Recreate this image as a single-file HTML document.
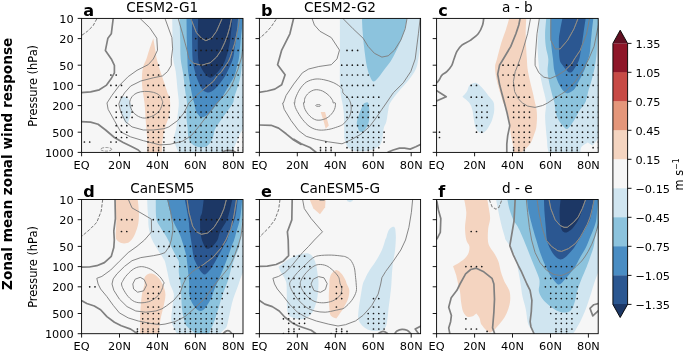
<!DOCTYPE html>
<html lang="en"><head><meta charset="utf-8"><title>Zonal mean zonal wind response</title>
<style>html,body{margin:0;padding:0;background:#fff;overflow:hidden}svg{display:block}text{font-family:'DejaVu Sans','Liberation Sans',sans-serif;fill:#000}</style>
</head><body>
<svg width="685" height="353" viewBox="0 0 685 353">
<rect width="685" height="353" fill="#fff"/>
<g id="panel-a">
<clipPath id="ca"><rect x="81.6" y="18.4" width="161.4" height="134"/></clipPath>
<rect x="81.6" y="18.4" width="161.4" height="134" fill="#f6f6f6"/>
<g clip-path="url(#ca)">
<path d="M172.2 17C172.2 17 172.4 33.1 172.6 40.1C172.8 47.1 172.7 53.6 173.2 58.9C173.7 64.1 175 66.3 175.7 71.6C176.4 76.8 177.1 85.2 177.6 90.4C178.1 95.6 178.8 98.7 178.8 102.9C178.8 107.1 178 111.4 177.6 115.6C177.2 119.8 176.9 124.5 176.3 128.1C175.7 131.7 174.4 134.2 174.2 136.9C174 139.6 174.3 141.3 175.1 144C175.9 146.7 178.8 153 178.8 153C178.8 153 233.4 153 233.4 153C233.4 153 233.5 150.2 234.1 148.1C234.7 146 236.1 143.1 237.2 140.6C238.2 138.1 239.1 135.4 240.4 133C241.7 130.6 245 126 245 126C245 126 245 17 245 17C245 17 172.2 17 172.2 17Z" fill="#d0e5f0"/>
<path d="M179.5 17C179.5 17 180 33 180.2 40C180.4 47 180.2 53.2 180.7 58.9C181.2 64.6 182.5 68.8 183.2 74.1C183.9 79.3 184.5 85.6 185.1 90.4C185.7 95.2 186.8 98.7 187 102.9C187.2 107.1 186.3 111.4 186.4 115.6C186.5 119.8 187.2 124.4 187.6 128.1C187.9 131.8 187.8 135.3 188.5 138C189.2 140.7 190.1 142.4 192 144C193.9 145.6 197.6 147.1 200.2 147.3C202.8 147.5 205.6 147 207.7 145.4C209.8 143.8 211.5 140.7 212.7 138C213.9 135.3 213.4 132.6 214.9 129.5C216.4 126.4 219.3 122.5 221.5 119.3C223.7 116.1 225.9 113.2 227.8 110.5C229.7 107.8 231.9 105.2 233 103C234.1 100.8 233.4 100 234.3 97C235.2 94 237.1 88.9 238.2 85.2C239.3 81.5 240.1 78.4 240.7 75C241.3 71.6 241.5 68.3 241.8 65C242.1 61.7 242 58.5 242.5 55C243 51.5 245 44 245 44C245 44 245 17 245 17C245 17 179.5 17 179.5 17Z" fill="#8cc3dd"/>
<path d="M186.5 17C186.5 17 186.7 33 186.8 40C187 47 187.2 53.7 187.4 59C187.6 64.3 187.7 67.4 188.1 71.6C188.5 75.8 189.4 79.9 190.1 84.1C190.8 88.3 191.7 93.5 192.4 96.7C193.1 99.9 193.6 100.7 194.2 103C194.8 105.3 195 108.4 195.8 110.5C196.6 112.6 198 114.4 198.9 115.6C199.8 116.8 200.1 117.4 201.4 117.4C202.7 117.4 204.6 116.9 206.5 115.6C208.4 114.2 210.8 111.4 212.7 109.3C214.6 107.2 216.2 105 217.8 103C219.4 101 220.3 100 222.2 97C224.1 94 227.1 88.7 229.1 85.2C231.1 81.7 233.1 79.1 234.4 76C235.7 72.9 236.2 69.3 236.9 66.5C237.6 63.7 238.3 61.7 238.8 59C239.3 56.3 239.4 53.9 239.8 50.2C240.2 46.5 240.4 42.5 241 37C241.6 31.5 243.5 17 243.5 17C243.5 17 186.5 17 186.5 17Z" fill="#4a8dc3"/>
<path d="M192 17C192 17 192 33 192.1 40C192.2 47 192.2 54.2 192.6 59C193 63.8 193.5 65.5 194.3 69C195.2 72.5 196.4 77 197.7 80.3C199 83.6 200.6 87.1 202.1 89.1C203.6 91.1 204.9 91.9 206.5 92.3C208.1 92.7 209.5 92.8 211.5 91.6C213.5 90.4 216.1 87.9 218.4 85.2C220.7 82.5 223.5 78.6 225.4 75.5C227.3 72.4 228.6 69.2 229.8 66.5C231 63.8 232 61.7 232.8 59C233.6 56.3 233.9 53.7 234.4 50.2C234.9 46.7 235.5 43.5 236.1 38C236.7 32.5 238.2 17 238.2 17C238.2 17 192 17 192 17Z" fill="#2b5791"/>
<path d="M198.2 17C198.2 17 197.8 33 197.8 40C197.8 47 197.7 54.6 198.2 59C198.7 63.4 199.4 64 200.6 66.5C201.8 69 203.6 72.2 205.2 74.1C206.8 76 208.5 77.7 210.2 77.8C211.9 77.9 213.4 76.6 215.5 74.6C217.6 72.5 220.8 68.1 222.5 65.5C224.2 62.9 224.7 61.5 225.6 59C226.5 56.5 227.4 53.7 228.2 50.2C229 46.8 229.7 43.8 230.4 38.3C231.1 32.8 232.6 17 232.6 17C232.6 17 198.2 17 198.2 17Z" fill="#1c3765"/>
<path d="M153.3 38.2C153.3 38.2 150.7 45.5 149.5 49C148.3 52.5 147.4 56.1 146.4 59C145.4 61.9 144 63.8 143.3 66.5C142.6 69.2 142.2 71.7 142 75.3C141.8 78.9 141.9 83.3 142.3 87.9C142.7 92.5 143.9 97.2 144.5 102.9C145.1 108.6 145.4 116 145.8 121.8C146.2 127.6 146.8 132.8 147.1 138C147.3 143.2 147.3 153 147.3 153C147.3 153 161.9 153 161.9 153C161.9 153 162 144.8 162.5 140.6C163 136.4 163.9 132.2 165 128C166.1 123.8 168.3 119.4 169.2 115.6C170.1 111.8 170.2 108.2 170.2 105C170.2 101.8 169.8 98.3 169.3 96.3C168.9 94.3 168.4 95.4 167.5 92.9C166.6 90.5 165.1 85.4 163.8 81.6C162.6 77.8 161.2 74.1 160 70.3C158.8 66.5 157.5 61.9 156.8 59C156.1 56.1 156.4 56.2 155.8 52.7C155.2 49.2 153.3 38.2 153.3 38.2Z" fill="#f4d4c0"/>
<path d="M120.5 98C121.3 96.8 123.2 96.6 124.5 96.7C125.8 96.8 127 97.5 128 98.5C129 99.5 129.9 101.1 130.5 103C131.1 104.9 131.6 107.7 131.5 110C131.4 112.3 130.8 114.7 130 117C129.2 119.3 128.1 123.6 127 124C125.9 124.4 124.5 121.7 123.5 119.5C122.5 117.3 121.6 113.6 121 111C120.4 108.4 119.9 106.2 119.8 104C119.7 101.8 119.7 99.2 120.5 98Z" fill="#d0e5f0"/>
<path d="M113.2 18.5L111.3 33.8 107.9 38.2 105.4 50.4 111.3 58.9 114.4 65.3 114.4 72.8 110.9 79.1 106.2 85.4 99.3 89.8 90.6 91.9 81 92.6" fill="none" stroke="#808080" stroke-width="1.7" stroke-linejoin="round"/>
<path d="M81 121.6L90.6 122.1 98.1 124.3 105.6 130 114.4 137.5 123.2 142.5 132 146.8 138.3 150 140.8 152.5" fill="none" stroke="#808080" stroke-width="1.7" stroke-linejoin="round"/>
<path d="M222 152.6L224.5 151 227.8 150.3 232.8 150.8 236 152.6" fill="none" stroke="#808080" stroke-width="1.7" stroke-linejoin="round"/>
<path d="M96.8 18.8L93.1 25.7 87.4 31.3 81.4 35.6" fill="none" stroke="#777" stroke-width="1" stroke-dasharray="3.3 1.5" stroke-linejoin="round"/>
<path d="M140.1 18.5L149.6 27.6 156.8 38.2 157.5 50.2 153.3 59 148.3 64.6 137 70.3 128.2 76.6 119.4 85.4 111.9 95.4 107 103 108.1 109.3 114.4 120.6 120.7 131.9 130.7 136.9 143.3 140.7 153.3 143.2 160 144.9 170 144.3 182.6 141.2 191.4 135.5 197.7 128 201.4 123.1 210.2 111.8 217.1 103 222.8 97 226 93.8 230.4 87.6 233.5 81.3 235.4 75.5 237.9 69.4 239.8 63.2 241.7 57 242.5 50 242.9 35 243 18" fill="none" stroke="#808080" stroke-width="0.95" stroke-linejoin="round"/>
<path d="M165 18.5L171.9 37.6 172.6 48.9 171.3 58.9 171.3 65.3 167.5 71.6 162.5 75.9 153.3 77.8 140.8 81 130.7 86 124.5 92.9 120.7 99.2 118.8 104 120.7 111.8 125.7 121.8 132 126.9 143.3 130 153.3 130 164 128.7 168.8 126.9 177.6 120.6 183.9 113 188.9 103 196.4 95.4 203.9 89.1 213.4 81.3 217.8 75 220.9 72.6 224.7 66.9 228.5 61.3 230.4 57 232.2 51.3 234.8 43.2 236.6 35 238.2 27.6 239.5 18.5" fill="none" stroke="#808080" stroke-width="0.95" stroke-linejoin="round"/>
<path d="M129.7 102.9C129.7 100.6 130.8 98.4 132 96.7C133.2 95 134.9 93.8 137 92.9C139.1 92 141.8 91.5 144.5 91.4C147.2 91.3 150.8 91.6 153.3 92.3C155.8 93 158.1 94.1 159.6 95.4C161.1 96.8 161.6 99.1 162.1 100.4C162.6 101.7 163 101.3 162.6 103C162.2 104.7 161.1 108.4 159.6 110.5C158.1 112.6 155.8 114.3 153.3 115.6C150.8 116.9 147.2 118.1 144.5 118.1C141.8 118.1 139.1 116.9 137 115.6C134.9 114.3 133.2 112.6 132 110.5C130.8 108.4 129.7 105.2 129.7 102.9Z" fill="none" stroke="#808080" stroke-width="0.95" stroke-linejoin="round"/>
<path d="M178.2 18.5L182.6 33.8 187 50.2 189 58.9 193.9 63.4 201.4 65.3 210.2 62.8 216.6 57 220.9 50.7 224.7 42.5 227.4 35.5 229.7 27.6 231.6 18.5" fill="none" stroke="#808080" stroke-width="0.95" stroke-linejoin="round"/>
<path d="M190.8 18.5L196.4 32.6 201.4 38.2 205.8 40.7 211.5 38.2 216.5 31.3 222.1 18.5" fill="none" stroke="#808080" stroke-width="0.95" stroke-linejoin="round"/>
<clipPath id="ka"><path d="M192 17C192 17 192 33 192.1 40C192.2 47 192.2 54.2 192.6 59C193 63.8 193.5 65.5 194.3 69C195.2 72.5 196.4 77 197.7 80.3C199 83.6 200.6 87.1 202.1 89.1C203.6 91.1 204.9 91.9 206.5 92.3C208.1 92.7 209.5 92.8 211.5 91.6C213.5 90.4 216.1 87.9 218.4 85.2C220.7 82.5 223.5 78.6 225.4 75.5C227.3 72.4 228.6 69.2 229.8 66.5C231 63.8 232 61.7 232.8 59C233.6 56.3 233.9 53.7 234.4 50.2C234.9 46.7 235.5 43.5 236.1 38C236.7 32.5 238.2 17 238.2 17C238.2 17 192 17 192 17Z"/></clipPath>
<g clip-path="url(#ka)">
<path d="M140.1 18.5L149.6 27.6 156.8 38.2 157.5 50.2 153.3 59 148.3 64.6 137 70.3 128.2 76.6 119.4 85.4 111.9 95.4 107 103 108.1 109.3 114.4 120.6 120.7 131.9 130.7 136.9 143.3 140.7 153.3 143.2 160 144.9 170 144.3 182.6 141.2 191.4 135.5 197.7 128 201.4 123.1 210.2 111.8 217.1 103 222.8 97 226 93.8 230.4 87.6 233.5 81.3 235.4 75.5 237.9 69.4 239.8 63.2 241.7 57 242.5 50 242.9 35 243 18" fill="none" stroke="#969086" stroke-width="0.8" stroke-linejoin="round"/>
<path d="M165 18.5L171.9 37.6 172.6 48.9 171.3 58.9 171.3 65.3 167.5 71.6 162.5 75.9 153.3 77.8 140.8 81 130.7 86 124.5 92.9 120.7 99.2 118.8 104 120.7 111.8 125.7 121.8 132 126.9 143.3 130 153.3 130 164 128.7 168.8 126.9 177.6 120.6 183.9 113 188.9 103 196.4 95.4 203.9 89.1 213.4 81.3 217.8 75 220.9 72.6 224.7 66.9 228.5 61.3 230.4 57 232.2 51.3 234.8 43.2 236.6 35 238.2 27.6 239.5 18.5" fill="none" stroke="#969086" stroke-width="0.8" stroke-linejoin="round"/>
<path d="M129.7 102.9C129.7 100.6 130.8 98.4 132 96.7C133.2 95 134.9 93.8 137 92.9C139.1 92 141.8 91.5 144.5 91.4C147.2 91.3 150.8 91.6 153.3 92.3C155.8 93 158.1 94.1 159.6 95.4C161.1 96.8 161.6 99.1 162.1 100.4C162.6 101.7 163 101.3 162.6 103C162.2 104.7 161.1 108.4 159.6 110.5C158.1 112.6 155.8 114.3 153.3 115.6C150.8 116.9 147.2 118.1 144.5 118.1C141.8 118.1 139.1 116.9 137 115.6C134.9 114.3 133.2 112.6 132 110.5C130.8 108.4 129.7 105.2 129.7 102.9Z" fill="none" stroke="#969086" stroke-width="0.8" stroke-linejoin="round"/>
<path d="M178.2 18.5L182.6 33.8 187 50.2 189 58.9 193.9 63.4 201.4 65.3 210.2 62.8 216.6 57 220.9 50.7 224.7 42.5 227.4 35.5 229.7 27.6 231.6 18.5" fill="none" stroke="#969086" stroke-width="0.8" stroke-linejoin="round"/>
<path d="M190.8 18.5L196.4 32.6 201.4 38.2 205.8 40.7 211.5 38.2 216.5 31.3 222.1 18.5" fill="none" stroke="#969086" stroke-width="0.8" stroke-linejoin="round"/>
</g>
<path d="M195.7 38.6h0M201 38.6h0M206.3 38.6h0M211.6 38.6h0M216.9 38.6h0M222.2 38.6h0M227.5 38.6h0M232.8 38.6h0M238.1 38.6h0M243.4 38.6h0M195.7 50.4h0M201 50.4h0M206.3 50.4h0M211.6 50.4h0M216.9 50.4h0M222.2 50.4h0M227.5 50.4h0M232.8 50.4h0M238.1 50.4h0M243.4 50.4h0M153.3 65.2h0M158.6 65.2h0M190.4 65.2h0M195.7 65.2h0M201 65.2h0M206.3 65.2h0M211.6 65.2h0M216.9 65.2h0M222.2 65.2h0M227.5 65.2h0M232.8 65.2h0M238.1 65.2h0M243.4 65.2h0M110.9 75h0M116.2 75h0M148 75h0M153.3 75h0M158.6 75h0M185.1 75h0M190.4 75h0M195.7 75h0M201 75h0M206.3 75h0M211.6 75h0M216.9 75h0M222.2 75h0M227.5 75h0M232.8 75h0M238.1 75h0M243.4 75h0M110.9 85.4h0M116.2 85.4h0M121.5 85.4h0M148 85.4h0M153.3 85.4h0M158.6 85.4h0M163.9 85.4h0M185.1 85.4h0M190.4 85.4h0M195.7 85.4h0M201 85.4h0M206.3 85.4h0M211.6 85.4h0M216.9 85.4h0M222.2 85.4h0M227.5 85.4h0M232.8 85.4h0M238.1 85.4h0M243.4 85.4h0M116.2 97.2h0M121.5 97.2h0M126.8 97.2h0M148 97.2h0M153.3 97.2h0M158.6 97.2h0M163.9 97.2h0M169.2 97.2h0M185.1 97.2h0M190.4 97.2h0M195.7 97.2h0M201 97.2h0M206.3 97.2h0M211.6 97.2h0M216.9 97.2h0M222.2 97.2h0M227.5 97.2h0M232.8 97.2h0M238.1 97.2h0M243.4 97.2h0M116.2 105.6h0M121.5 105.6h0M126.8 105.6h0M132.1 105.6h0M148 105.6h0M153.3 105.6h0M158.6 105.6h0M163.9 105.6h0M169.2 105.6h0M185.1 105.6h0M190.4 105.6h0M195.7 105.6h0M201 105.6h0M206.3 105.6h0M211.6 105.6h0M216.9 105.6h0M222.2 105.6h0M227.5 105.6h0M232.8 105.6h0M238.1 105.6h0M243.4 105.6h0M116.2 112.1h0M121.5 112.1h0M126.8 112.1h0M132.1 112.1h0M148 112.1h0M153.3 112.1h0M158.6 112.1h0M163.9 112.1h0M169.2 112.1h0M185.1 112.1h0M190.4 112.1h0M195.7 112.1h0M201 112.1h0M206.3 112.1h0M211.6 112.1h0M216.9 112.1h0M222.2 112.1h0M227.5 112.1h0M232.8 112.1h0M238.1 112.1h0M243.4 112.1h0M116.2 117.4h0M121.5 117.4h0M126.8 117.4h0M132.1 117.4h0M148 117.4h0M153.3 117.4h0M158.6 117.4h0M163.9 117.4h0M169.2 117.4h0M179.8 117.4h0M185.1 117.4h0M190.4 117.4h0M195.7 117.4h0M201 117.4h0M206.3 117.4h0M211.6 117.4h0M216.9 117.4h0M222.2 117.4h0M227.5 117.4h0M232.8 117.4h0M238.1 117.4h0M243.4 117.4h0M116.2 125.7h0M121.5 125.7h0M126.8 125.7h0M148 125.7h0M153.3 125.7h0M158.6 125.7h0M163.9 125.7h0M179.8 125.7h0M185.1 125.7h0M190.4 125.7h0M195.7 125.7h0M201 125.7h0M206.3 125.7h0M211.6 125.7h0M216.9 125.7h0M222.2 125.7h0M227.5 125.7h0M232.8 125.7h0M238.1 125.7h0M243.4 125.7h0M116.2 132.2h0M121.5 132.2h0M126.8 132.2h0M148 132.2h0M153.3 132.2h0M158.6 132.2h0M163.9 132.2h0M179.8 132.2h0M185.1 132.2h0M190.4 132.2h0M195.7 132.2h0M201 132.2h0M206.3 132.2h0M211.6 132.2h0M216.9 132.2h0M222.2 132.2h0M227.5 132.2h0M232.8 132.2h0M238.1 132.2h0M243.4 132.2h0M116.2 137.5h0M121.5 137.5h0M126.8 137.5h0M148 137.5h0M153.3 137.5h0M158.6 137.5h0M163.9 137.5h0M174.5 137.5h0M179.8 137.5h0M185.1 137.5h0M190.4 137.5h0M195.7 137.5h0M201 137.5h0M206.3 137.5h0M211.6 137.5h0M216.9 137.5h0M222.2 137.5h0M227.5 137.5h0M232.8 137.5h0M238.1 137.5h0M243.4 137.5h0M84.4 142h0M89.7 142h0M110.9 142h0M116.2 142h0M148 142h0M153.3 142h0M158.6 142h0M163.9 142h0M174.5 142h0M179.8 142h0M185.1 142h0M190.4 142h0M195.7 142h0M201 142h0M206.3 142h0M211.6 142h0M216.9 142h0M222.2 142h0M227.5 142h0M232.8 142h0M238.1 142h0M243.4 142h0M148 147.7h0M153.3 147.7h0M158.6 147.7h0M163.9 147.7h0M179.8 147.7h0M185.1 147.7h0M190.4 147.7h0M195.7 147.7h0M201 147.7h0M206.3 147.7h0M211.6 147.7h0M216.9 147.7h0M222.2 147.7h0M227.5 147.7h0M232.8 147.7h0M238.1 147.7h0M243.4 147.7h0M148 150.1h0M153.3 150.1h0M158.6 150.1h0M163.9 150.1h0M179.8 150.1h0M185.1 150.1h0M190.4 150.1h0M195.7 150.1h0M201 150.1h0M206.3 150.1h0M211.6 150.1h0M216.9 150.1h0M222.2 150.1h0M227.5 150.1h0M232.8 150.1h0M238.1 150.1h0M243.4 150.1h0M148 152.4h0M153.3 152.4h0M158.6 152.4h0M163.9 152.4h0M179.8 152.4h0M185.1 152.4h0M190.4 152.4h0M195.7 152.4h0M201 152.4h0M206.3 152.4h0M211.6 152.4h0M216.9 152.4h0M222.2 152.4h0M227.5 152.4h0M232.8 152.4h0M238.1 152.4h0M243.4 152.4h0" stroke="#1a1a1a" stroke-width="1.7" stroke-linecap="round" fill="none"/>
<ellipse cx="106.2" cy="149.3" rx="5.5" ry="1.8" fill="none" stroke="#808080" stroke-width="0.8" stroke-dasharray="3 1.3"/>
</g>
<rect x="81.6" y="18.4" width="161.4" height="134" fill="none" stroke="#000" stroke-width="0.9"/>
</g>
<path d="M81.6 18.4h-3.9M81.6 38.6h-3.9M81.6 65.2h-3.9M81.6 85.4h-3.9M81.6 105.6h-3.9M81.6 132.2h-3.9M81.6 152.4h-3.9M81.6 152.4v3.9M119.5 152.4v3.9M157.5 152.4v3.9M195.4 152.4v3.9M233.4 152.4v3.9" stroke="#000" stroke-width="0.9" fill="none"/>
<text x="81.6" y="169.1" font-size="11.3" text-anchor="middle">EQ</text>
<text x="119.5" y="169.1" font-size="11.3" text-anchor="middle">20N</text>
<text x="157.5" y="169.1" font-size="11.3" text-anchor="middle">40N</text>
<text x="195.4" y="169.1" font-size="11.3" text-anchor="middle">60N</text>
<text x="233.4" y="169.1" font-size="11.3" text-anchor="middle">80N</text>
<text x="73.7" y="22.8" font-size="11.3" text-anchor="end">10</text>
<text x="73.7" y="43" font-size="11.3" text-anchor="end">20</text>
<text x="73.7" y="69.6" font-size="11.3" text-anchor="end">50</text>
<text x="73.7" y="89.8" font-size="11.3" text-anchor="end">100</text>
<text x="73.7" y="110" font-size="11.3" text-anchor="end">200</text>
<text x="73.7" y="136.6" font-size="11.3" text-anchor="end">500</text>
<text x="73.7" y="156.8" font-size="11.3" text-anchor="end">1000</text>
<text transform="translate(37.2 85.8) rotate(-90)" font-size="11.4" text-anchor="middle">Pressure (hPa)</text>
<text x="162.3" y="11.8" font-size="13.65" text-anchor="middle">CESM2-G1</text>
<text x="83.3" y="15.5" font-size="16.1" font-weight="bold">a</text>
<g id="panel-b">
<clipPath id="cb"><rect x="259.4" y="18.4" width="161.2" height="134"/></clipPath>
<rect x="259.4" y="18.4" width="161.2" height="134" fill="#f6f6f6"/>
<g clip-path="url(#cb)">
<path d="M339.9 16.3C339.9 16.3 339.9 47.6 339.9 58.9C339.9 70.2 339.7 77.8 339.9 84.1C340.1 90.4 340.7 93.5 341.1 96.7C341.6 99.8 342 100.6 342.4 102.9C342.8 105.3 343.2 108 343.5 110.5C343.8 113.1 343.9 114.1 344 118.1C344.2 122 344.2 131.1 344.3 134.4C344.3 137.7 343.9 136.2 344.3 138C344.7 139.9 345.5 143.6 346.8 145.6C348 147.6 349.5 149 351.8 150C354.1 150.9 357.5 151.3 360.6 151.3C363.7 151.4 367.7 150.9 370.6 150.1C373.6 149.3 376.3 148.4 378.2 146.8C380.1 145.2 381 143.7 381.9 140.6C382.9 137.4 383.1 131.1 383.8 128C384.6 124.9 385.6 124.7 386.3 121.8C387.1 118.9 387.6 113.7 388.2 110.5C388.8 107.4 388.4 106.1 390.1 103C391.8 99.9 395.2 95.6 398.3 91.9C401.3 88.2 405.4 84.4 408.3 80.6C411.2 76.8 414.2 72.9 415.8 69.3C417.5 65.7 417.6 62.8 418.4 59C419.1 55.2 419.6 50.6 420.2 46.4C420.9 42.2 422 38.9 422.4 33.8C422.7 28.8 422.4 16.3 422.4 16.3C422.4 16.3 339.9 16.3 339.9 16.3Z" fill="#d0e5f0"/>
<path d="M361.9 16.3C361.9 16.3 362.2 25.5 362.5 30.1C362.8 34.7 363.2 39.1 363.7 43.9C364.3 48.7 365 54.7 365.6 58.9C366.2 63.1 366.8 66.1 367.5 69C368.2 72 369 74.5 370 76.6C371 78.7 372 81.4 373.4 81.6C374.8 81.8 376.1 80.1 378.2 77.8C380.2 75.5 383.4 70.9 385.7 67.8C388 64.7 389.7 63 392 59C394.3 55 397.4 48.7 399.5 43.9C401.6 39.1 403.3 34.7 404.5 30.1C405.8 25.5 407.1 16.3 407.1 16.3C407.1 16.3 361.9 16.3 361.9 16.3Z" fill="#8cc3dd"/>
<path d="M367.3 102.3C366.4 102.1 364.5 102.9 363.5 104C362.5 105.1 362 107.1 361.2 109C360.4 110.9 359.4 113.2 358.7 115.6C358 117.9 356.8 120.7 356.8 123.1C356.8 125.5 357.9 128.5 358.7 130C359.5 131.5 360.6 132.2 361.9 131.9C363.1 131.6 365 129.8 366.2 128.1C367.4 126.4 368.3 124.3 368.8 121.8C369.3 119.3 369.4 115.8 369.4 113C369.4 110.2 369.1 106.8 368.8 105C368.5 103.2 368.2 102.5 367.3 102.3Z" fill="#8cc3dd"/>
<path d="M320.7 112L325.1 112 327 119 328.8 125.6 325.7 128.7 323.8 121.8Z" fill="#f4d4c0"/>
<path d="M276.1 19.4L271.1 26.9 264.8 33.8 259.1 38.6" fill="none" stroke="#777" stroke-width="1" stroke-dasharray="3.3 1.5" stroke-linejoin="round"/>
<path d="M293.7 18L289.9 33.8 281.7 50.1 279.2 58.9 277.6 64.7 285.1 74.7 281.7 84.7 274.8 89.1 267.3 91 258.5 92.4" fill="none" stroke="#808080" stroke-width="1.7" stroke-linejoin="round"/>
<path d="M258.5 125L271.1 125.3 278.6 128.1 286.1 133.8 293.7 140 301.2 144.4 293.7 139.3 301.2 143.7 310 147.5 316.3 152.5" fill="none" stroke="#808080" stroke-width="1.7" stroke-linejoin="round"/>
<path d="M387.6 152.4L393.2 150 399.5 148.1 404.5 148.1 410.2 149.1 415.8 146.8 422.1 143.7" fill="none" stroke="#808080" stroke-width="1.7" stroke-linejoin="round"/>
<path d="M311.9 18L314.4 25 320 31.3 331.3 37.6 339.5 50.1 337 58.9 331.3 64.7 318.8 66.5 308.7 69 302.4 72.8 293.7 84.1 286.1 95.4 283.4 102.9 282.6 103 284.2 109.3 291.1 120.6 298.7 130.6 306.2 136.3 316.3 139.4 328.8 141.9 342 143.8 350.6 140 360.6 134.4 369.4 126.8 376.9 116.8 381.9 109.3 386.3 103 393.2 92.9 403.3 82.8 410.8 71.5 415.2 59 418.4 33.8 420.2 18" fill="none" stroke="#808080" stroke-width="0.95" stroke-linejoin="round"/>
<path d="M342.4 18L353.1 28.8 363.1 38.2 368.1 46.4 374.4 53.3 381.9 57.1 388.2 55.8 394.5 50.1 400.8 40.1 405.2 28.8 407.1 18" fill="none" stroke="#808080" stroke-width="0.95" stroke-linejoin="round"/>
<path d="M342 88.5C340.5 86.8 336.9 84.3 333.8 82.8C330.8 81.4 326.9 80.3 323.8 79.7C320.7 79.1 317.9 78.7 315 79.1C312.1 79.5 308.7 80.6 306.2 82.2C303.7 83.9 301.7 86.5 299.9 89.1C298.2 91.7 296.4 95.6 295.6 97.9C294.7 100.2 294.9 102.1 294.7 102.9C294.5 103.8 294 101.9 294.3 103C294.5 104.1 294.8 106.6 296.2 109.3C297.5 112 300.1 116.4 302.4 119.3C304.8 122.2 307.3 125.1 310 126.8C312.7 128.6 315.6 129.6 318.8 130C321.9 130.4 325.7 129.9 328.8 129.4C332 128.8 335.4 127.6 337.6 126.8C339.8 126.1 340.9 125.6 342 125C343.1 124.3 343.1 124.5 344.3 123.1C345.5 121.7 348.1 119.1 349.3 116.8C350.5 114.5 351 111.6 351.2 109.3C351.4 107 351.1 104.9 350.6 103C350 101.1 349.3 99.6 348 97.9C346.8 96.2 344 94.5 343 92.9C342 91.3 343.5 90.2 342 88.5Z" fill="none" stroke="#808080" stroke-width="0.95" stroke-linejoin="round"/>
<path d="M304.3 102.9C304.6 102.1 304.2 99.6 305 97.9C305.7 96.2 307.1 94.3 308.7 92.9C310.4 91.5 312.7 90.1 315 89.8C317.3 89.4 320.2 90.1 322.5 91C324.8 92 327.1 93.8 328.8 95.4C330.5 97 331.9 99.2 332.6 100.4C333.3 101.7 332.8 102.5 333.2 102.9C333.7 103.4 335.1 101.9 335.4 103C335.6 104.1 335.4 107.2 334.5 109.3C333.6 111.4 331.8 113.9 330.1 115.5C328.3 117.2 326.1 118.6 323.8 119.3C321.5 120.1 318.6 120.5 316.3 120C314 119.4 311.9 118 310 116.2C308.1 114.4 306 111.5 305 109.3C303.9 107.1 303.6 104.1 303.5 103C303.4 101.9 304.1 103.8 304.3 102.9Z" fill="none" stroke="#808080" stroke-width="0.95" stroke-linejoin="round"/>
<path d="M347 50.4h0M352.3 50.4h0M357.6 50.4h0M341.7 65.2h0M347 65.2h0M352.3 65.2h0M357.6 65.2h0M362.9 65.2h0M341.7 75h0M347 75h0M352.3 75h0M357.6 75h0M362.9 75h0M368.2 75h0M341.7 85.4h0M347 85.4h0M352.3 85.4h0M357.6 85.4h0M362.9 85.4h0M368.2 85.4h0M373.5 85.4h0M347 97.2h0M352.3 97.2h0M357.6 97.2h0M362.9 97.2h0M368.2 97.2h0M373.5 97.2h0M378.8 97.2h0M347 105.6h0M352.3 105.6h0M357.6 105.6h0M362.9 105.6h0M368.2 105.6h0M373.5 105.6h0M378.8 105.6h0M347 112.1h0M352.3 112.1h0M357.6 112.1h0M362.9 112.1h0M368.2 112.1h0M373.5 112.1h0M378.8 112.1h0M347 117.4h0M352.3 117.4h0M357.6 117.4h0M362.9 117.4h0M368.2 117.4h0M373.5 117.4h0M378.8 117.4h0M347 125.7h0M352.3 125.7h0M357.6 125.7h0M362.9 125.7h0M368.2 125.7h0M373.5 125.7h0M378.8 125.7h0M347 132.2h0M352.3 132.2h0M357.6 132.2h0M362.9 132.2h0M368.2 132.2h0M373.5 132.2h0M378.8 132.2h0M384.1 132.2h0M347 137.5h0M352.3 137.5h0M357.6 137.5h0M362.9 137.5h0M368.2 137.5h0M373.5 137.5h0M378.8 137.5h0M384.1 137.5h0M325.8 142h0M347 142h0M352.3 142h0M357.6 142h0M362.9 142h0M368.2 142h0M373.5 142h0M378.8 142h0M384.1 142h0M320.5 147.7h0M325.8 147.7h0M331.1 147.7h0M347 147.7h0M352.3 147.7h0M357.6 147.7h0M362.9 147.7h0M368.2 147.7h0M373.5 147.7h0M378.8 147.7h0M320.5 150.1h0M325.8 150.1h0M331.1 150.1h0M352.3 150.1h0M357.6 150.1h0M362.9 150.1h0M368.2 150.1h0M373.5 150.1h0M320.5 152.4h0M325.8 152.4h0M331.1 152.4h0M352.3 152.4h0M357.6 152.4h0M362.9 152.4h0M368.2 152.4h0M373.5 152.4h0" stroke="#1a1a1a" stroke-width="1.7" stroke-linecap="round" fill="none"/>
<ellipse cx="318.2" cy="105.5" rx="2.5" ry="0.9" fill="none" stroke="#808080" stroke-width="0.85"/>
</g>
<rect x="259.4" y="18.4" width="161.2" height="134" fill="none" stroke="#000" stroke-width="0.9"/>
</g>
<path d="M259.4 18.4h-3.9M259.4 38.6h-3.9M259.4 65.2h-3.9M259.4 85.4h-3.9M259.4 105.6h-3.9M259.4 132.2h-3.9M259.4 152.4h-3.9M259.4 152.4v3.9M297.3 152.4v3.9M335.3 152.4v3.9M373.2 152.4v3.9M411.2 152.4v3.9" stroke="#000" stroke-width="0.9" fill="none"/>
<text x="259.4" y="169.1" font-size="11.3" text-anchor="middle">EQ</text>
<text x="297.3" y="169.1" font-size="11.3" text-anchor="middle">20N</text>
<text x="335.3" y="169.1" font-size="11.3" text-anchor="middle">40N</text>
<text x="373.2" y="169.1" font-size="11.3" text-anchor="middle">60N</text>
<text x="411.2" y="169.1" font-size="11.3" text-anchor="middle">80N</text>
<text x="340" y="11.8" font-size="13.65" text-anchor="middle">CESM2-G2</text>
<text x="261.1" y="15.5" font-size="16.1" font-weight="bold">b</text>
<g id="panel-c">
<clipPath id="cc"><rect x="436.6" y="18.4" width="161.6" height="134"/></clipPath>
<rect x="436.6" y="18.4" width="161.6" height="134" fill="#f6f6f6"/>
<g clip-path="url(#cc)">
<path d="M509.6 17C509.6 17 507.2 25.8 505.8 30.1C504.4 34.4 502.9 37.8 501.4 42.6C499.9 47.4 498.1 55 497 59C495.9 63 495.3 63.8 495.1 66.5C494.9 69.2 495.3 72 495.8 75.3C496.3 78.6 497.4 83 498.3 86.6C499.2 90.2 500.6 94 501.4 96.7C502.2 99.4 502.2 100.2 503.3 102.9C504.4 105.6 506.6 109.6 507.7 113C508.8 116.4 509.1 119.5 509.6 123.1C510.1 126.7 510.2 130.4 510.8 134.4C511.4 138.4 512.9 143.7 513.4 146.9C513.9 150.1 514 153.5 514 153.5C514 153.5 520.5 153.5 520.5 153.5C520.5 153.5 522.6 151.7 523.8 150.6C525 149.5 526.4 148.3 527.6 146.8C528.9 145.3 530.2 143.9 531.3 141.8C532.4 139.7 533.4 136.6 534.2 134.3C535 132 535.7 130.7 536.2 128C536.7 125.3 536.9 121 537 118C537.1 115 536.9 112.5 536.6 110C536.3 107.5 535.7 105.5 535.1 102.9C534.5 100.3 534 97.8 533.2 94.2C532.4 90.7 531 85.8 530.1 81.6C529.2 77.4 528.1 72.8 527.6 69C527.1 65.2 527.1 62.1 526.9 59C526.7 55.9 526.5 54.4 526.3 50.2C526.1 46 525.7 39.3 525.7 33.8C525.7 28.3 526.3 17 526.3 17C526.3 17 509.6 17 509.6 17Z" fill="#f4d4c0"/>
<path d="M539.5 17C539.5 17 538.5 28.9 538.2 33.8C537.9 38.7 537.6 42.2 537.6 46.4C537.6 50.6 537.9 54.7 538.2 58.9C538.5 63.1 538.9 67.4 539.5 71.6C540.1 75.8 541.1 79.9 542 84.1C542.9 88.3 544.4 93.4 545.1 96.7C545.8 100 546.2 100.8 546.2 104C546.2 107.2 545.2 111.6 545.1 115.6C545 119.6 545.5 123.9 545.8 128.1C546.1 132.3 546.7 137.4 547 140.7C547.3 144 547.3 146 547.6 148.1C547.9 150.2 549 153.5 549 153.5C549 153.5 580.3 153.5 580.3 153.5C580.3 153.5 580.2 148.7 581.5 146.8C582.8 145 587.8 142.4 587.8 142.4C587.8 142.4 592.8 145.6 592.8 145.6C592.8 145.6 595.4 142.2 596.6 140.6C597.8 139 600 136 600 136C600 136 600 17 600 17C600 17 539.5 17 539.5 17Z" fill="#d0e5f0"/>
<path d="M546.4 17C546.4 17 545.2 28.9 545.1 33.8C545 38.7 545.3 42.2 545.8 46.4C546.3 50.6 548 54.7 548.3 58.9C548.6 63.1 547.4 67.4 547.6 71.6C547.8 75.8 548.6 79.9 549.5 84.1C550.4 88.3 551.9 93.6 552.7 96.7C553.5 99.8 554 100.2 554.5 102.9C555 105.6 554.9 109.8 555.8 113C556.6 116.2 557.9 119.2 559.6 121.8C561.3 124.4 564.2 127.7 565.8 128.7C567.4 129.6 567.6 128.8 569 127.5C570.4 126.2 572.2 123.4 574 120.6C575.8 117.8 577.7 113.4 579.5 110.5C581.3 107.6 583.8 105.3 585 103C586.2 100.7 586.4 98.9 587 96.7C587.6 94.5 588.1 91.9 588.6 90C589.1 88.1 589.5 87.6 590.2 85.1C590.9 82.6 592.3 77.8 593 74.9C593.7 72.1 594 71.3 594.6 68C595.2 64.7 596 59.6 596.5 55C597 50.4 596.8 46.4 597.4 40.1C598 33.8 600 17 600 17C600 17 546.4 17 546.4 17Z" fill="#8cc3dd"/>
<path d="M550.8 17C550.8 17 550.3 28.9 550.4 33.8C550.5 38.7 551 42.2 551.4 46.4C551.8 50.6 552.5 54.7 553 58.9C553.5 63.1 553.5 67.4 554.5 71.6C555.5 75.8 557.3 80.8 558.9 84.1C560.5 87.4 562.5 90.1 564 91.6C565.5 93.1 566.1 93.5 567.7 93.2C569.3 92.9 572.1 91.3 573.6 90C575.1 88.7 575.3 87.6 576.7 85.1C578.1 82.6 580.6 77.8 582 74.9C583.4 72.1 584.3 70.3 585.2 68C586.1 65.7 586.8 63.2 587.5 61C588.2 58.8 589 56.8 589.4 55C589.8 53.2 589.7 53.7 590.1 50.2C590.5 46.7 591 39.3 591.6 33.8C592.2 28.3 593.5 17 593.5 17C593.5 17 550.8 17 550.8 17Z" fill="#4a8dc3"/>
<path d="M562.7 17C562.7 17 560.8 26.2 560.2 30.1C559.6 34 559 35.3 558.9 40.1C558.8 44.9 559 54.7 559.6 58.9C560.2 63.1 561.4 63.2 562.7 65.3C564.1 67.4 566.5 70.4 567.7 71.6C569 72.8 569.4 72.5 570.2 72.4C571.1 72.3 571.8 72.1 572.8 70.9C573.8 69.7 575.4 67.3 576.5 65.3C577.6 63.3 578.6 61.5 579.3 59C580 56.5 580.2 54.4 580.9 50.2C581.6 46 582.6 39.3 583.4 33.8C584.2 28.3 585.9 17 585.9 17C585.9 17 562.7 17 562.7 17Z" fill="#2b5791"/>
<path d="M462.5 96.7C462.5 96.7 465.8 93.5 466.9 91.6C468 89.7 468.1 86.9 469.4 85.4C470.6 84 472.9 83.1 474.4 82.9C475.9 82.7 476.7 83.1 478.2 84.1C479.7 85.1 481.5 87.2 483.2 89.1C484.9 91 486.5 93.3 488.2 95.4C489.9 97.5 492.3 99.8 493.3 101.7C494.3 103.6 494.1 105.1 494.2 107C494.3 108.9 494.4 110.5 493.9 113C493.4 115.5 492.5 119.1 491.4 121.8C490.2 124.5 488.5 127.5 487 129.4C485.5 131.3 483.9 132.6 482.6 133.1C481.4 133.6 480.6 133.3 479.5 132.5C478.4 131.7 476.6 130.3 475.7 128.1C474.8 125.9 474.3 122.2 473.8 119.3C473.3 116.4 473.2 113.2 472.5 110.5C471.8 107.8 471.1 105.3 469.4 103C467.7 100.7 462.5 96.7 462.5 96.7Z" fill="#d0e5f0"/>
<path d="M483.8 17.5C483.6 18.8 483.5 22.3 482.6 25C481.7 27.7 480.2 31.3 478.2 33.8C476.2 36.3 473.4 38.2 470.7 40.1C468 42 464.2 43.2 461.9 45.1C459.6 47 458.2 49.1 456.9 51.4C455.6 53.7 454.9 56.7 454 59C453.1 61.3 453 63.2 451.8 65.3C450.6 67.4 448.5 69.9 446.8 71.6C445.1 73.3 443.1 73.9 441.8 75.3C440.6 76.7 440.3 78.3 439.3 79.7C438.3 81.1 436.6 82.9 436 83.5" fill="none" stroke="#808080" stroke-width="1.7" stroke-linejoin="round"/>
<path d="M436 90.2L446.2 96.7 436 101.2" fill="none" stroke="#808080" stroke-width="1.7" stroke-linejoin="round"/>
<path d="M520.3 17.5L518.8 25 515.9 33.8 510.8 46.4 503.3 59 499.5 65.3 497.7 74.1 499.5 84.1 502.1 94.2 504.5 102.9 507.1 113 509.8 125.6 507.7 135.6 506.8 144 506.8 153" fill="none" stroke="#808080" stroke-width="1.7" stroke-linejoin="round"/>
<path d="M530.7 17.5L527.6 33.8 523.2 48.9 520 59 516.3 69 515.2 71.6 513.4 81.6 514.6 91.6 518.6 99.2 522.5 103 527.6 106.1 535.1 107.4 542.6 105.5 547.6 103 555.2 97.9 565.2 91.6 575.3 81.6 582.8 70.3 588.7 59 594.1 46.4 597.9 27.6 599 22" fill="none" stroke="#808080" stroke-width="0.95" stroke-linejoin="round"/>
<path d="M539.5 17.5L537 33.8 535.1 58.9 535.1 65.3 538.9 72.8 543.9 77.2 550.2 78.5 557.7 75.3 565.2 70.3 571.5 64 574.4 59 580.3 50.2 586.6 33.8 589.7 17.5" fill="none" stroke="#808080" stroke-width="0.95" stroke-linejoin="round"/>
<path d="M550.8 17.5L550.8 40.1 555.2 48.9 560.2 48.9 567.7 40.1 574 28.8 578.4 17.5" fill="none" stroke="#808080" stroke-width="0.95" stroke-linejoin="round"/>
<clipPath id="kc"><path d="M562.7 17C562.7 17 560.8 26.2 560.2 30.1C559.6 34 559 35.3 558.9 40.1C558.8 44.9 559 54.7 559.6 58.9C560.2 63.1 561.4 63.2 562.7 65.3C564.1 67.4 566.5 70.4 567.7 71.6C569 72.8 569.4 72.5 570.2 72.4C571.1 72.3 571.8 72.1 572.8 70.9C573.8 69.7 575.4 67.3 576.5 65.3C577.6 63.3 578.6 61.5 579.3 59C580 56.5 580.2 54.4 580.9 50.2C581.6 46 582.6 39.3 583.4 33.8C584.2 28.3 585.9 17 585.9 17C585.9 17 562.7 17 562.7 17Z"/></clipPath>
<g clip-path="url(#kc)">
<path d="M530.7 17.5L527.6 33.8 523.2 48.9 520 59 516.3 69 515.2 71.6 513.4 81.6 514.6 91.6 518.6 99.2 522.5 103 527.6 106.1 535.1 107.4 542.6 105.5 547.6 103 555.2 97.9 565.2 91.6 575.3 81.6 582.8 70.3 588.7 59 594.1 46.4 597.9 27.6 599 22" fill="none" stroke="#969086" stroke-width="0.8" stroke-linejoin="round"/>
<path d="M539.5 17.5L537 33.8 535.1 58.9 535.1 65.3 538.9 72.8 543.9 77.2 550.2 78.5 557.7 75.3 565.2 70.3 571.5 64 574.4 59 580.3 50.2 586.6 33.8 589.7 17.5" fill="none" stroke="#969086" stroke-width="0.8" stroke-linejoin="round"/>
<path d="M550.8 17.5L550.8 40.1 555.2 48.9 560.2 48.9 567.7 40.1 574 28.8 578.4 17.5" fill="none" stroke="#969086" stroke-width="0.8" stroke-linejoin="round"/>
</g>
<path d="M503 65.2h0M508.3 65.2h0M513.6 65.2h0M518.9 65.2h0M566.6 65.2h0M571.9 65.2h0M577.2 65.2h0M582.5 65.2h0M587.8 65.2h0M593.1 65.2h0M598.4 65.2h0M503 75h0M508.3 75h0M513.6 75h0M518.9 75h0M524.2 75h0M566.6 75h0M571.9 75h0M577.2 75h0M582.5 75h0M587.8 75h0M593.1 75h0M598.4 75h0M471.2 85.4h0M476.5 85.4h0M508.3 85.4h0M513.6 85.4h0M518.9 85.4h0M524.2 85.4h0M561.3 85.4h0M566.6 85.4h0M571.9 85.4h0M577.2 85.4h0M582.5 85.4h0M587.8 85.4h0M593.1 85.4h0M598.4 85.4h0M471.2 97.2h0M476.5 97.2h0M481.8 97.2h0M508.3 97.2h0M513.6 97.2h0M518.9 97.2h0M524.2 97.2h0M529.5 97.2h0M556 97.2h0M561.3 97.2h0M566.6 97.2h0M571.9 97.2h0M577.2 97.2h0M582.5 97.2h0M587.8 97.2h0M593.1 97.2h0M598.4 97.2h0M476.5 105.6h0M481.8 105.6h0M487.1 105.6h0M513.6 105.6h0M518.9 105.6h0M524.2 105.6h0M556 105.6h0M561.3 105.6h0M566.6 105.6h0M571.9 105.6h0M577.2 105.6h0M582.5 105.6h0M587.8 105.6h0M593.1 105.6h0M598.4 105.6h0M476.5 112.1h0M481.8 112.1h0M487.1 112.1h0M513.6 112.1h0M518.9 112.1h0M524.2 112.1h0M529.5 112.1h0M556 112.1h0M561.3 112.1h0M566.6 112.1h0M571.9 112.1h0M577.2 112.1h0M582.5 112.1h0M587.8 112.1h0M593.1 112.1h0M598.4 112.1h0M476.5 117.4h0M481.8 117.4h0M487.1 117.4h0M513.6 117.4h0M518.9 117.4h0M524.2 117.4h0M529.5 117.4h0M556 117.4h0M561.3 117.4h0M566.6 117.4h0M571.9 117.4h0M577.2 117.4h0M582.5 117.4h0M587.8 117.4h0M593.1 117.4h0M598.4 117.4h0M476.5 125.7h0M481.8 125.7h0M518.9 125.7h0M524.2 125.7h0M529.5 125.7h0M556 125.7h0M561.3 125.7h0M566.6 125.7h0M571.9 125.7h0M577.2 125.7h0M582.5 125.7h0M587.8 125.7h0M593.1 125.7h0M598.4 125.7h0M439.5 132.2h0M476.5 132.2h0M481.8 132.2h0M513.6 132.2h0M518.9 132.2h0M524.2 132.2h0M529.5 132.2h0M550.7 132.2h0M556 132.2h0M561.3 132.2h0M566.6 132.2h0M571.9 132.2h0M577.2 132.2h0M582.5 132.2h0M587.8 132.2h0M593.1 132.2h0M598.4 132.2h0M439.5 137.5h0M513.6 137.5h0M518.9 137.5h0M524.2 137.5h0M529.5 137.5h0M550.7 137.5h0M556 137.5h0M561.3 137.5h0M566.6 137.5h0M571.9 137.5h0M577.2 137.5h0M582.5 137.5h0M587.8 137.5h0M593.1 137.5h0M598.4 137.5h0M513.6 142h0M518.9 142h0M524.2 142h0M529.5 142h0M550.7 142h0M556 142h0M561.3 142h0M566.6 142h0M571.9 142h0M577.2 142h0M582.5 142h0M593.1 142h0M598.4 142h0M513.6 147.7h0M518.9 147.7h0M524.2 147.7h0M550.7 147.7h0M556 147.7h0M561.3 147.7h0M566.6 147.7h0M571.9 147.7h0M577.2 147.7h0M593.1 147.7h0M598.4 147.7h0M513.6 150.1h0M518.9 150.1h0M524.2 150.1h0M550.7 150.1h0M556 150.1h0M561.3 150.1h0M566.6 150.1h0M571.9 150.1h0M577.2 150.1h0M513.6 152.4h0M518.9 152.4h0M524.2 152.4h0M550.7 152.4h0M556 152.4h0M561.3 152.4h0M566.6 152.4h0M571.9 152.4h0M577.2 152.4h0" stroke="#1a1a1a" stroke-width="1.7" stroke-linecap="round" fill="none"/>
</g>
<rect x="436.6" y="18.4" width="161.6" height="134" fill="none" stroke="#000" stroke-width="0.9"/>
</g>
<path d="M436.6 18.4h-3.9M436.6 38.6h-3.9M436.6 65.2h-3.9M436.6 85.4h-3.9M436.6 105.6h-3.9M436.6 132.2h-3.9M436.6 152.4h-3.9M436.6 152.4v3.9M474.6 152.4v3.9M512.5 152.4v3.9M550.5 152.4v3.9M588.4 152.4v3.9" stroke="#000" stroke-width="0.9" fill="none"/>
<text x="436.6" y="169.1" font-size="11.3" text-anchor="middle">EQ</text>
<text x="474.6" y="169.1" font-size="11.3" text-anchor="middle">20N</text>
<text x="512.5" y="169.1" font-size="11.3" text-anchor="middle">40N</text>
<text x="550.5" y="169.1" font-size="11.3" text-anchor="middle">60N</text>
<text x="588.4" y="169.1" font-size="11.3" text-anchor="middle">80N</text>
<text x="517.4" y="11.8" font-size="13.65" text-anchor="middle">a - b</text>
<text x="438.3" y="15.5" font-size="16.1" font-weight="bold">c</text>
<g id="panel-d">
<clipPath id="cd"><rect x="81.6" y="199.5" width="161.4" height="134.2"/></clipPath>
<rect x="81.6" y="199.5" width="161.4" height="134.2" fill="#f6f6f6"/>
<g clip-path="url(#cd)">
<path d="M115.4 198C115.4 198 116.2 214.8 116.3 221.1C116.3 227.4 115.6 232.8 115.7 236C115.8 239.2 116 238.8 116.9 240C117.8 241.2 119.6 242.6 121.3 243.1C123 243.6 125.3 243.6 127 243.1C128.7 242.6 130.1 241.6 131.4 240C132.8 238.4 133.9 236.4 135.1 233.7C136.2 231 137.7 227.2 138.3 223.6C138.9 220 139 216.6 138.9 212.3C138.8 208 137.6 198 137.6 198C137.6 198 115.4 198 115.4 198Z" fill="#f4d4c0"/>
<path d="M144.5 277.7C145.1 276 146.8 274.5 148.3 273.9C149.8 273.3 151.6 273.3 153.3 273.9C155 274.5 156.9 276 158.4 277.7C159.9 279.4 161.3 281.3 162.5 284C163.7 286.7 165.2 290.4 165.4 294C165.6 297.6 164.5 301.7 163.8 305.3C163.1 308.9 162 312.3 161.3 315.4C160.6 318.5 160.2 320.7 159.8 324C159.4 327.3 159 335 159 335C159 335 140.1 335 140.1 335C140.1 335 140 321.6 140.1 316.6C140.2 311.7 140.5 309.1 140.8 305.3C141.1 301.5 141.4 297.6 142 294C142.6 290.4 144.1 286.7 144.5 284C144.9 281.3 143.9 279.4 144.5 277.7Z" fill="#f4d4c0"/>
<path d="M147.1 198C147.1 198 147.5 207.8 147.7 211.1C147.9 214.4 148 215.2 148.2 218C148.4 220.8 148.2 224.4 148.8 228C149.4 231.6 150.4 235.7 151.9 239.3C153.4 242.9 155.7 246.2 157.6 249.4C159.5 252.6 161.9 256.1 163.2 258.2C164.4 260.3 164.4 259.5 165.1 261.9C165.8 264.3 166.7 268.9 167.5 272.6C168.3 276.3 168.9 280.3 170 283.9C171.1 287.5 173.4 290.4 173.8 294C174.2 297.6 173 301.5 172.6 305.3C172.2 309.1 171.5 313.8 171.3 316.6C171.1 319.4 171.2 320.1 171.6 322C172 323.9 172.8 325.6 173.8 327.8C174.8 330 177.6 335 177.6 335C177.6 335 219.5 335 219.5 335C219.5 335 220.8 332.8 222 331.5C223.2 330.2 225.4 329.1 226.5 327C227.6 324.9 227.8 322 228.5 319C229.2 316 229.9 312.5 230.7 309C231.5 305.5 232.3 301.7 233.5 298C234.7 294.3 236.3 290.7 237.6 287C238.9 283.3 240.2 279.2 241.4 276C242.6 272.8 245 268 245 268C245 268 245 198 245 198C245 198 147.1 198 147.1 198Z" fill="#d0e5f0"/>
<path d="M155.8 198C155.8 198 155.6 213.2 156.3 218C157 222.8 158.4 223.7 160.1 226.8C161.8 229.9 164.5 233.5 166.4 236.8C168.3 240.2 169.7 243.6 171.4 246.9C173.1 250.2 175.2 254.4 176.4 256.9C177.7 259.4 178.5 259.3 178.9 261.9C179.3 264.5 178.5 268.9 178.8 272.6C179.1 276.3 180.3 279.9 180.7 283.9C181.1 287.9 181.1 292.4 181.3 296.6C181.5 300.8 181.5 304.9 182 309.1C182.5 313.3 183.7 318.8 184.5 321.7C185.3 324.6 185.7 324.9 187 326.5C188.3 328.1 191 329.6 192.6 331C194.2 332.4 196.4 335 196.4 335C196.4 335 209 335 209 335C209 335 209.6 331.9 210.2 330.3C210.8 328.7 211.8 327.4 212.7 325.3C213.6 323.2 214.8 319.9 215.5 318C216.2 316.1 216.1 315.5 216.7 313.7C217.3 311.9 218.1 309.7 218.9 307.2C219.7 304.7 220.2 301.9 221.3 298.5C222.4 295.1 224.2 290.4 225.5 287C226.8 283.6 227.8 281.4 228.8 278C229.8 274.6 230.5 270.4 231.6 266.7C232.7 263 234.1 259.4 235.4 256C236.7 252.6 238.3 249.4 239.2 246.4C240.1 243.4 240.2 240.9 240.6 238C241 235.1 241.1 232.3 241.4 229C241.7 225.7 241.8 221.5 242.4 218C243 214.5 245 208 245 208C245 208 245 198 245 198C245 198 155.8 198 155.8 198Z" fill="#8cc3dd"/>
<path d="M166.9 198C166.9 198 168.6 205.7 169.4 209C170.2 212.3 171 215.2 172 218C173 220.8 173.8 222.6 175.2 225.5C176.6 228.4 178.8 232 180.2 235.6C181.6 239.2 182.8 243.4 183.9 246.9C185 250.4 186 254.4 186.5 256.9C187 259.3 186.7 259 187 261.6C187.3 264.2 187.8 268.9 188.2 272.6C188.6 276.3 189 280.3 189.2 283.9C189.3 287.5 188.6 290.9 189.1 294C189.6 297.1 190.8 300.3 192 302.8C193.2 305.3 195 307.7 196.4 309.1C197.8 310.5 199 310.9 200.2 311C201.4 311.1 202.6 310.3 203.5 309.7C204.4 309.1 204.4 309 205.7 307.2C207 305.4 209.9 301.1 211.1 298.8C212.3 296.5 212.2 295.5 212.9 293.5C213.6 291.5 214.3 289.6 215.4 287C216.5 284.4 218 281.4 219.4 278C220.8 274.6 222.6 270.4 224.1 266.7C225.6 263 226.9 259.4 228.2 256C229.4 252.6 230.6 249.1 231.6 246.4C232.6 243.7 233.3 242.4 234.1 240C234.9 237.6 235.4 235.4 236.4 231.7C237.4 228 239.2 223.6 240.2 218C241.2 212.4 242.3 198 242.3 198C242.3 198 166.9 198 166.9 198Z" fill="#4a8dc3"/>
<path d="M184.5 198C184.5 198 187.5 212.6 188.3 218C189.2 223.4 189.1 226.4 189.6 230.6C190.1 234.8 190.9 238.9 191.5 243.1C192.1 247.3 192.8 252.6 193.4 255.7C194 258.8 194.1 259.1 195.2 261.6C196.3 264.1 198.6 268.7 200.2 270.8C201.8 272.9 203.2 274.4 204.6 274.5C206 274.6 207.2 272.8 208.5 271.5C209.8 270.2 210.5 269.3 212.2 266.7C213.8 264.1 216.5 259.4 218.4 256C220.3 252.6 222 249.1 223.5 246.4C225 243.7 226.2 242.4 227.2 240C228.2 237.6 228.3 235.4 229.6 231.7C230.9 228 233.7 223.6 235.1 218C236.5 212.4 237.9 198 237.9 198C237.9 198 184.5 198 184.5 198Z" fill="#2b5791"/>
<path d="M203.9 198C203.9 198 202.7 209 202.1 212.3C201.5 215.6 200.6 214.9 200.3 218C200 221.1 200 226.8 200.3 230.6C200.6 234.4 201.1 237.6 202.1 240.6C203.1 243.6 204.8 247.5 206.5 248.5C208.2 249.5 210.4 247.8 212.2 246.4C214 245 216.2 242.4 217.5 240C218.8 237.6 218.4 235.3 220.1 231.7C221.8 228.1 225.4 224.1 227.5 218.5C229.6 212.9 232.6 198 232.6 198C232.6 198 203.9 198 203.9 198Z" fill="#1c3765"/>
<path d="M115 198.5L115.4 218.6 113.8 231.2 114.3 240 113.8 247.5 111.3 256.3 104.4 262.6 96.8 265.7 89.3 267 81 267.2" fill="none" stroke="#808080" stroke-width="1.7" stroke-linejoin="round"/>
<path d="M81 300.3L86.8 303.5 94.3 306 100.6 309.7 106.9 316.6 114.4 322.3 121.3 325.7 130.7 329.1 137.8 334" fill="none" stroke="#808080" stroke-width="1.7" stroke-linejoin="round"/>
<path d="M222.8 334.2C223.2 333.8 224.7 332.1 225.5 331.5C226.3 330.9 227 330.6 227.8 330.6C228.6 330.6 229.4 331 230.1 331.6C230.8 332.2 231.8 333.8 232.2 334.2" fill="none" stroke="#808080" stroke-width="1.7" stroke-linejoin="round"/>
<path d="M102.7 199.5L102.5 201 101.2 211.1 96.8 222.4 89.3 229.9 81.5 236.5" fill="none" stroke="#777" stroke-width="1" stroke-dasharray="3.3 1.5" stroke-linejoin="round"/>
<path d="M128.2 199L132 207.9 142 213.6 151.4 219.2 151.6 231.8 144.5 240 137 246.3 128.2 252.6 119.4 261.3 110.6 270.1 101.9 276.4 96.8 278.3 98.1 284 100.6 289 106.9 296.6 113.2 305.3 119.4 312.9 128.2 317.9 138.3 321 150.8 323.5 160 324.7 165 324.1 175.1 321.6 185.1 316.5 192 310.5 198.9 304.1 205.1 298 208.2 293.6 212.6 287.3 217.6 281 222.8 274.8 227.9 268.6 231.6 262.3 234.8 254.8 238.2 245.4 241 236 242.3 226 243.4 217" fill="none" stroke="#808080" stroke-width="0.95" stroke-linejoin="round"/>
<path d="M167.5 199L170.7 212.3 172.7 224.9 172.9 230.6 171.3 240 169.4 246.3 165 252.6 160 254.4 153.3 255.7 140.8 257.6 132 260.7 124.5 266.4 116.9 273.9 113.2 278.9 112 284 113.8 290.3 119.4 299.1 127 306.6 135.8 311 145.8 312.2 155.8 311 162 308.8 166.3 306 173.8 300.3 180.1 292.8 183.2 284 186.4 277.7 192.6 271.4 202.7 265.1 212.7 257.6 221.5 247.5 225.9 240 230.9 228.6 234.1 214.8 236.6 199" fill="none" stroke="#808080" stroke-width="0.95" stroke-linejoin="round"/>
<path d="M164 282.7C163.4 281.4 161.6 278.5 159.6 276.4C157.6 274.3 154.6 271.7 152.1 270.1C149.6 268.5 146.8 267.5 144.5 267C142.2 266.5 140.4 266.5 138.3 267C136.2 267.5 134.1 268.5 132 270.1C129.9 271.7 127.3 274.5 125.7 276.4C124.1 278.3 123.3 280.1 122.6 281.4C121.9 282.7 121.4 282.7 121.5 284C121.6 285.3 122.1 286.9 123.2 289C124.3 291.1 126.3 294.5 128.2 296.6C130.1 298.7 132.2 300.6 134.5 301.6C136.8 302.6 139.3 302.9 142 302.8C144.7 302.7 148.1 302.1 150.8 300.9C153.5 299.6 156.5 297.3 158.4 295.3C160.3 293.3 161.3 290.9 162.1 289C162.9 287.1 163.1 285.1 163.4 284C163.7 282.9 164.6 284 164 282.7Z" fill="none" stroke="#808080" stroke-width="0.95" stroke-linejoin="round"/>
<path d="M132.8 284L135.2 279.2 140.2 277.3 144.2 279.6 146.6 285.2 143.6 290.9 137.6 292.2 133.6 289Z" fill="none" stroke="#808080" stroke-width="0.95" stroke-linejoin="round"/>
<path d="M187 199L188.9 212.3 192.6 226.1 196.4 231.8 201.4 234.3 207.7 233 214 227.4 220.3 217.3 224 208.6 226.5 199" fill="none" stroke="#808080" stroke-width="0.95" stroke-linejoin="round"/>
<clipPath id="kd"><path d="M184.5 198C184.5 198 187.5 212.6 188.3 218C189.2 223.4 189.1 226.4 189.6 230.6C190.1 234.8 190.9 238.9 191.5 243.1C192.1 247.3 192.8 252.6 193.4 255.7C194 258.8 194.1 259.1 195.2 261.6C196.3 264.1 198.6 268.7 200.2 270.8C201.8 272.9 203.2 274.4 204.6 274.5C206 274.6 207.2 272.8 208.5 271.5C209.8 270.2 210.5 269.3 212.2 266.7C213.8 264.1 216.5 259.4 218.4 256C220.3 252.6 222 249.1 223.5 246.4C225 243.7 226.2 242.4 227.2 240C228.2 237.6 228.3 235.4 229.6 231.7C230.9 228 233.7 223.6 235.1 218C236.5 212.4 237.9 198 237.9 198C237.9 198 184.5 198 184.5 198Z"/></clipPath>
<g clip-path="url(#kd)">
<path d="M128.2 199L132 207.9 142 213.6 151.4 219.2 151.6 231.8 144.5 240 137 246.3 128.2 252.6 119.4 261.3 110.6 270.1 101.9 276.4 96.8 278.3 98.1 284 100.6 289 106.9 296.6 113.2 305.3 119.4 312.9 128.2 317.9 138.3 321 150.8 323.5 160 324.7 165 324.1 175.1 321.6 185.1 316.5 192 310.5 198.9 304.1 205.1 298 208.2 293.6 212.6 287.3 217.6 281 222.8 274.8 227.9 268.6 231.6 262.3 234.8 254.8 238.2 245.4 241 236 242.3 226 243.4 217" fill="none" stroke="#969086" stroke-width="0.8" stroke-linejoin="round"/>
<path d="M167.5 199L170.7 212.3 172.7 224.9 172.9 230.6 171.3 240 169.4 246.3 165 252.6 160 254.4 153.3 255.7 140.8 257.6 132 260.7 124.5 266.4 116.9 273.9 113.2 278.9 112 284 113.8 290.3 119.4 299.1 127 306.6 135.8 311 145.8 312.2 155.8 311 162 308.8 166.3 306 173.8 300.3 180.1 292.8 183.2 284 186.4 277.7 192.6 271.4 202.7 265.1 212.7 257.6 221.5 247.5 225.9 240 230.9 228.6 234.1 214.8 236.6 199" fill="none" stroke="#969086" stroke-width="0.8" stroke-linejoin="round"/>
<path d="M164 282.7C163.4 281.4 161.6 278.5 159.6 276.4C157.6 274.3 154.6 271.7 152.1 270.1C149.6 268.5 146.8 267.5 144.5 267C142.2 266.5 140.4 266.5 138.3 267C136.2 267.5 134.1 268.5 132 270.1C129.9 271.7 127.3 274.5 125.7 276.4C124.1 278.3 123.3 280.1 122.6 281.4C121.9 282.7 121.4 282.7 121.5 284C121.6 285.3 122.1 286.9 123.2 289C124.3 291.1 126.3 294.5 128.2 296.6C130.1 298.7 132.2 300.6 134.5 301.6C136.8 302.6 139.3 302.9 142 302.8C144.7 302.7 148.1 302.1 150.8 300.9C153.5 299.6 156.5 297.3 158.4 295.3C160.3 293.3 161.3 290.9 162.1 289C162.9 287.1 163.1 285.1 163.4 284C163.7 282.9 164.6 284 164 282.7Z" fill="none" stroke="#969086" stroke-width="0.8" stroke-linejoin="round"/>
<path d="M132.8 284L135.2 279.2 140.2 277.3 144.2 279.6 146.6 285.2 143.6 290.9 137.6 292.2 133.6 289Z" fill="none" stroke="#969086" stroke-width="0.8" stroke-linejoin="round"/>
<path d="M187 199L188.9 212.3 192.6 226.1 196.4 231.8 201.4 234.3 207.7 233 214 227.4 220.3 217.3 224 208.6 226.5 199" fill="none" stroke="#969086" stroke-width="0.8" stroke-linejoin="round"/>
</g>
<path d="M121.5 219.7h0M126.8 219.7h0M132.1 219.7h0M153.3 219.7h0M158.6 219.7h0M163.9 219.7h0M169.2 219.7h0M174.5 219.7h0M179.8 219.7h0M185.1 219.7h0M201 219.7h0M206.3 219.7h0M211.6 219.7h0M216.9 219.7h0M222.2 219.7h0M227.5 219.7h0M232.8 219.7h0M238.1 219.7h0M243.4 219.7h0M121.5 231.5h0M126.8 231.5h0M153.3 231.5h0M158.6 231.5h0M163.9 231.5h0M169.2 231.5h0M174.5 231.5h0M179.8 231.5h0M185.1 231.5h0M190.4 231.5h0M195.7 231.5h0M201 231.5h0M206.3 231.5h0M211.6 231.5h0M216.9 231.5h0M222.2 231.5h0M227.5 231.5h0M232.8 231.5h0M238.1 231.5h0M243.4 231.5h0M158.6 246.4h0M163.9 246.4h0M169.2 246.4h0M174.5 246.4h0M179.8 246.4h0M185.1 246.4h0M190.4 246.4h0M195.7 246.4h0M201 246.4h0M206.3 246.4h0M211.6 246.4h0M216.9 246.4h0M222.2 246.4h0M227.5 246.4h0M232.8 246.4h0M238.1 246.4h0M243.4 246.4h0M169.2 256.2h0M174.5 256.2h0M179.8 256.2h0M185.1 256.2h0M190.4 256.2h0M195.7 256.2h0M201 256.2h0M206.3 256.2h0M211.6 256.2h0M216.9 256.2h0M222.2 256.2h0M227.5 256.2h0M232.8 256.2h0M238.1 256.2h0M243.4 256.2h0M174.5 266.6h0M179.8 266.6h0M185.1 266.6h0M190.4 266.6h0M195.7 266.6h0M201 266.6h0M206.3 266.6h0M211.6 266.6h0M216.9 266.6h0M222.2 266.6h0M227.5 266.6h0M232.8 266.6h0M238.1 266.6h0M243.4 266.6h0M179.8 278.4h0M185.1 278.4h0M190.4 278.4h0M195.7 278.4h0M201 278.4h0M206.3 278.4h0M211.6 278.4h0M216.9 278.4h0M222.2 278.4h0M227.5 278.4h0M232.8 278.4h0M89.7 286.8h0M95 286.8h0M153.3 286.8h0M158.6 286.8h0M179.8 286.8h0M185.1 286.8h0M190.4 286.8h0M195.7 286.8h0M201 286.8h0M206.3 286.8h0M211.6 286.8h0M216.9 286.8h0M222.2 286.8h0M227.5 286.8h0M148 293.3h0M153.3 293.3h0M158.6 293.3h0M179.8 293.3h0M185.1 293.3h0M190.4 293.3h0M195.7 293.3h0M201 293.3h0M206.3 293.3h0M211.6 293.3h0M216.9 293.3h0M222.2 293.3h0M227.5 293.3h0M148 298.6h0M153.3 298.6h0M158.6 298.6h0M179.8 298.6h0M185.1 298.6h0M190.4 298.6h0M195.7 298.6h0M201 298.6h0M206.3 298.6h0M211.6 298.6h0M216.9 298.6h0M222.2 298.6h0M148 307h0M153.3 307h0M158.6 307h0M174.5 307h0M179.8 307h0M185.1 307h0M190.4 307h0M195.7 307h0M201 307h0M206.3 307h0M211.6 307h0M216.9 307h0M222.2 307h0M142.7 313.5h0M148 313.5h0M153.3 313.5h0M158.6 313.5h0M174.5 313.5h0M179.8 313.5h0M185.1 313.5h0M190.4 313.5h0M195.7 313.5h0M201 313.5h0M206.3 313.5h0M211.6 313.5h0M216.9 313.5h0M222.2 313.5h0M142.7 318.8h0M148 318.8h0M153.3 318.8h0M158.6 318.8h0M174.5 318.8h0M179.8 318.8h0M185.1 318.8h0M190.4 318.8h0M195.7 318.8h0M201 318.8h0M206.3 318.8h0M211.6 318.8h0M216.9 318.8h0M222.2 318.8h0M142.7 323.3h0M148 323.3h0M153.3 323.3h0M158.6 323.3h0M174.5 323.3h0M179.8 323.3h0M185.1 323.3h0M190.4 323.3h0M195.7 323.3h0M201 323.3h0M206.3 323.3h0M211.6 323.3h0M216.9 323.3h0M222.2 323.3h0M137.4 329h0M142.7 329h0M148 329h0M153.3 329h0M158.6 329h0M174.5 329h0M179.8 329h0M185.1 329h0M190.4 329h0M195.7 329h0M201 329h0M206.3 329h0M211.6 329h0M216.9 329h0M137.4 331.4h0M142.7 331.4h0M148 331.4h0M153.3 331.4h0M158.6 331.4h0M179.8 331.4h0M185.1 331.4h0M190.4 331.4h0M195.7 331.4h0M201 331.4h0M206.3 331.4h0M211.6 331.4h0M216.9 331.4h0M137.4 333.7h0M142.7 333.7h0M148 333.7h0M153.3 333.7h0M158.6 333.7h0M179.8 333.7h0M185.1 333.7h0M190.4 333.7h0M195.7 333.7h0M201 333.7h0M206.3 333.7h0M211.6 333.7h0M216.9 333.7h0" stroke="#1a1a1a" stroke-width="1.7" stroke-linecap="round" fill="none"/>
</g>
<rect x="81.6" y="199.5" width="161.4" height="134.2" fill="none" stroke="#000" stroke-width="0.9"/>
</g>
<path d="M81.6 199.5h-3.9M81.6 219.7h-3.9M81.6 246.4h-3.9M81.6 266.6h-3.9M81.6 286.8h-3.9M81.6 313.5h-3.9M81.6 333.7h-3.9M81.6 333.7v3.9M119.5 333.7v3.9M157.5 333.7v3.9M195.4 333.7v3.9M233.4 333.7v3.9" stroke="#000" stroke-width="0.9" fill="none"/>
<text x="81.6" y="350.4" font-size="11.3" text-anchor="middle">EQ</text>
<text x="119.5" y="350.4" font-size="11.3" text-anchor="middle">20N</text>
<text x="157.5" y="350.4" font-size="11.3" text-anchor="middle">40N</text>
<text x="195.4" y="350.4" font-size="11.3" text-anchor="middle">60N</text>
<text x="233.4" y="350.4" font-size="11.3" text-anchor="middle">80N</text>
<text x="73.7" y="203.9" font-size="11.3" text-anchor="end">10</text>
<text x="73.7" y="224.1" font-size="11.3" text-anchor="end">20</text>
<text x="73.7" y="250.8" font-size="11.3" text-anchor="end">50</text>
<text x="73.7" y="271" font-size="11.3" text-anchor="end">100</text>
<text x="73.7" y="291.2" font-size="11.3" text-anchor="end">200</text>
<text x="73.7" y="317.9" font-size="11.3" text-anchor="end">500</text>
<text x="73.7" y="338.1" font-size="11.3" text-anchor="end">1000</text>
<text transform="translate(37.2 267) rotate(-90)" font-size="11.4" text-anchor="middle">Pressure (hPa)</text>
<text x="162.3" y="192.9" font-size="13.65" text-anchor="middle">CanESM5</text>
<text x="83.3" y="196.6" font-size="16.1" font-weight="bold">d</text>
<g id="panel-e">
<clipPath id="ce"><rect x="259.4" y="199.5" width="161.2" height="134.2"/></clipPath>
<rect x="259.4" y="199.5" width="161.2" height="134.2" fill="#f6f6f6"/>
<g clip-path="url(#ce)">
<path d="M309 198L313.4 208.6 320 214.2 325.1 207.3 325.7 198Z" fill="#f4d4c0"/>
<path d="M345.5 198L347.5 201.2 350 202.2 352.5 201 353.6 198Z" fill="#d0e5f0"/>
<path d="M393.2 226.8C392.1 227 389.9 228.1 388.8 229.9C387.7 231.7 386.9 235.7 386.3 237.4C385.7 239.1 385.9 237.9 385.2 240C384.5 242.1 383.5 246.4 381.9 250C380.3 253.6 377.9 257.7 375.7 261.3C373.5 264.9 370.6 268.5 368.8 271.4C367 274.3 366 276.8 365 278.9C364 281 363.5 281.1 362.8 284C362.1 286.9 361.3 292.4 360.6 296.6C359.9 300.8 359.1 305.5 358.7 309.1C358.3 312.8 357.8 315.8 358.3 318.5C358.8 321.2 360.3 323.4 361.9 325.3C363.5 327.2 365.8 328.8 368.1 329.7C370.4 330.6 373.2 331 375.7 331C378.2 331 381.4 330.6 383.2 329.7C385 328.8 385.6 327.3 386.3 325.3C387 323.3 387.2 320.5 387.6 317.8C388 315.1 388.1 312.5 388.5 309C388.9 305.5 389.6 300.8 390.1 296.6C390.6 292.4 391.1 288 391.4 284C391.7 280 391.7 276.4 392 272.6C392.3 268.8 392.7 265.1 393.2 261.3C393.7 257.5 394.7 253.6 395.1 250C395.5 246.4 395.7 242.5 395.8 240C395.9 237.5 395.9 236.8 395.8 234.9C395.7 233 395.5 229.9 395.1 228.6C394.7 227.2 394.2 226.6 393.2 226.8Z" fill="#d0e5f0"/>
<path d="M278.6 267C278.6 267 284.3 262.1 287.4 260.1C290.5 258.1 294.3 256.2 297.4 255.1C300.5 253.9 303.9 253.2 306.2 253.2C308.5 253.2 309.7 253.8 311.2 255.1C312.7 256.4 314.1 259 315 261.3C315.9 263.6 316.4 266.2 316.9 268.9C317.4 271.6 317.8 275.2 318.1 277.7C318.4 280.2 318.6 280.9 318.5 284C318.4 287.1 318.1 292.8 317.5 296.6C316.9 300.4 316.1 303.7 315 306.6C313.9 309.5 312.7 312.2 311.2 314.1C309.7 316 308.1 317 306.2 317.9C304.3 318.8 302 319.2 299.9 319.2C297.8 319.2 295.5 318.5 293.7 317.9C291.9 317.3 290 316.9 288.9 315.4C287.8 313.9 287.5 312.2 287.1 309.1C286.8 306 286.9 300.8 286.8 296.6C286.7 292.4 286.8 286.9 286.5 284C286.2 281.1 285.8 280.8 284.9 278.9C284 277 282.2 274.6 281.1 272.6C280.1 270.6 278.6 267 278.6 267Z" fill="#d0e5f0"/>
<path d="M336.4 269.9C334.6 269.9 332.5 272.2 331.3 273.9C330.1 275.6 329.7 278.5 329.4 280.2C329.1 281.9 329.5 281.3 329.4 284C329.3 286.7 328.8 292.4 328.8 296.6C328.8 300.8 329.1 306 329.4 309.1C329.7 312.2 329.5 313.8 330.7 315.4C331.9 317 336.4 318.5 336.4 318.5C336.4 318.5 338.3 315.9 339.5 314.1C340.7 312.3 342.2 310.4 343.6 307.9C345 305.4 347.1 302 348 299.1C348.9 296.2 349.5 292.8 349.3 290.3C349.1 287.8 347.4 285.7 346.8 284C346.2 282.3 346.3 281.9 345.5 280.2C344.7 278.5 343.3 275.6 341.8 273.9C340.3 272.2 338.1 269.9 336.4 269.9Z" fill="#f4d4c0"/>
<path d="M280 199.5L278.6 209.8 274.8 219.9 268.6 228 259.5 237" fill="none" stroke="#777" stroke-width="1" stroke-dasharray="3.3 1.5" stroke-linejoin="round"/>
<path d="M319.5 200.3L324.6 200.3" fill="none" stroke="#808080" stroke-width="0.95" stroke-linejoin="round"/>
<path d="M292.2 198.5L291.8 219.9 287.4 231.8 288.2 240 288.6 255.7 283 261.3 276.1 264.5 267.3 266.1 258.5 266.4" fill="none" stroke="#808080" stroke-width="1.7" stroke-linejoin="round"/>
<path d="M258.5 299.8L264.8 304.1 272.3 306.6 279.2 311 284.9 317.3 292.4 322.9 298 325.8 303.7 327.8 311.2 330.3 316.3 334" fill="none" stroke="#808080" stroke-width="1.7" stroke-linejoin="round"/>
<path d="M377.5 334C378 333.7 379.6 332.6 380.5 332.2C381.4 331.8 382.3 331.4 383.2 331.4C384.1 331.4 384.8 331.8 385.6 332.2C386.4 332.6 387.8 333.7 388.2 334" fill="none" stroke="#808080" stroke-width="1.7" stroke-linejoin="round"/>
<path d="M394.5 334C394.9 333.5 395.8 331.8 397 331C398.2 330.2 400.3 329.4 402 329.3C403.7 329.2 405.4 329.5 407 330.3C408.6 331.1 410.7 333.4 411.4 334" fill="none" stroke="#808080" stroke-width="1.7" stroke-linejoin="round"/>
<path d="M422 325.5L415.2 329.1 418.8 334" fill="none" stroke="#808080" stroke-width="1.7" stroke-linejoin="round"/>
<path d="M302.5 199L304.3 208.6 311.2 218.6 322.5 231.8 314.4 240 308.7 246.3 302.5 252.6 297.4 258.8 291.2 266.4 284.9 272.6 278.6 276.4 272.9 278.3 274.5 284 277.3 289 283.6 296.6 289.9 304.7 297.4 312.2 306.2 317.3 316.3 321 328.8 324.2 338 326 345.5 324.7 355.6 320.9 363.1 315.3 368.8 309 371.9 305.3 378.2 294 380.7 284 381.9 277.7 385.7 271.4 393.2 261.3 400.8 250 405.5 240 408.9 227.4 411.4 212.3 412.7 199" fill="none" stroke="#808080" stroke-width="0.95" stroke-linejoin="round"/>
<path d="M342 256.1C339.6 255.8 335.2 255.2 331.3 255.1C327.4 255 321.9 255.2 318.8 255.7C315.7 256.2 314.8 256.6 312.5 258.2C310.2 259.8 307.5 262.7 305 265.1C302.5 267.5 299.5 270.3 297.4 272.6C295.3 274.9 293.7 277 292.4 278.9C291.1 280.8 289.6 281.9 289.6 284C289.6 286.1 290.9 288.8 292.4 291.5C293.9 294.2 296.4 297.7 298.7 300.3C301 302.9 303.5 305.4 306.2 307.2C308.9 309 311.9 310.2 315 311C318.1 311.8 321.8 312.3 325.1 312.2C328.5 312.1 332.6 310.9 335.1 310.4C337.6 309.9 338.5 309.7 340 309.3C341.5 308.9 342.3 309.4 344.3 307.9C346.3 306.4 349.8 303 351.8 300.3C353.8 297.6 355.5 294.2 356.2 291.5C356.9 288.8 356.3 286.3 356.2 284C356.1 281.7 355.9 280.4 355.6 277.7C355.3 275 355.1 270.5 354.3 267.6C353.5 264.7 352 261.9 350.6 260.1C349.2 258.3 347.4 257.7 346 257C344.6 256.3 344.4 256.4 342 256.1Z" fill="none" stroke="#808080" stroke-width="0.95" stroke-linejoin="round"/>
<path d="M338.2 276.4C337.1 274.7 334.6 271.9 332.6 270.1C330.6 268.3 328.6 266.6 326.3 265.7C324 264.8 321.1 264.3 318.8 264.5C316.5 264.7 314.6 265.6 312.5 267C310.4 268.4 308 270.6 306.2 272.6C304.4 274.6 302.8 277 301.8 278.9C300.8 280.8 300.1 282.1 300.2 284C300.3 285.9 301.3 288.2 302.5 290.3C303.7 292.4 305.4 294.7 307.5 296.6C309.6 298.5 312.3 300.6 315 301.6C317.7 302.6 320.9 302.9 323.8 302.8C326.7 302.7 330.1 301.9 332.6 300.9C335.1 299.9 337.5 297.9 338.9 296.6C340.3 295.4 340.6 294.9 341.1 293.4C341.6 291.9 342 289.4 341.8 287.8C341.6 286.2 340.6 285.3 340.2 284C339.8 282.7 339.8 281.5 339.5 280.2C339.2 278.9 339.3 278.1 338.2 276.4Z" fill="none" stroke="#808080" stroke-width="0.95" stroke-linejoin="round"/>
<path d="M311 284L313.2 279.2 318.5 276.6 324 277.8 327.2 283.6 325.4 289.5 320.5 292.3 314 290.6Z" fill="none" stroke="#808080" stroke-width="0.95" stroke-linejoin="round"/>
<path d="M294 256.2h0M299.3 256.2h0M304.6 256.2h0M283.4 266.6h0M288.7 266.6h0M294 266.6h0M299.3 266.6h0M304.6 266.6h0M309.9 266.6h0M288.7 278.4h0M294 278.4h0M299.3 278.4h0M304.6 278.4h0M309.9 278.4h0M294 286.8h0M299.3 286.8h0M304.6 286.8h0M309.9 286.8h0M336.4 286.8h0M341.7 286.8h0M294 293.3h0M299.3 293.3h0M304.6 293.3h0M309.9 293.3h0M336.4 293.3h0M341.7 293.3h0M294 298.6h0M299.3 298.6h0M304.6 298.6h0M309.9 298.6h0M336.4 298.6h0M341.7 298.6h0M373.5 298.6h0M378.8 298.6h0M288.7 307h0M294 307h0M299.3 307h0M304.6 307h0M309.9 307h0M336.4 307h0M373.5 307h0M378.8 307h0M288.7 313.5h0M294 313.5h0M299.3 313.5h0M304.6 313.5h0M309.9 313.5h0M368.2 313.5h0M373.5 313.5h0M378.8 313.5h0M384.1 313.5h0M283.4 318.8h0M288.7 318.8h0M294 318.8h0M299.3 318.8h0M304.6 318.8h0M368.2 318.8h0M373.5 318.8h0M378.8 318.8h0M384.1 318.8h0M288.7 323.3h0M294 323.3h0M299.3 323.3h0M304.6 323.3h0M368.2 323.3h0M373.5 323.3h0M378.8 323.3h0M384.1 323.3h0M288.7 329h0M294 329h0M299.3 329h0M336.4 329h0M341.7 329h0M373.5 329h0M378.8 329h0M384.1 329h0M288.7 331.4h0M294 331.4h0M336.4 331.4h0M341.7 331.4h0M347 331.4h0M283.4 333.7h0M288.7 333.7h0M294 333.7h0M331.1 333.7h0M336.4 333.7h0M341.7 333.7h0M347 333.7h0" stroke="#1a1a1a" stroke-width="1.7" stroke-linecap="round" fill="none"/>
</g>
<rect x="259.4" y="199.5" width="161.2" height="134.2" fill="none" stroke="#000" stroke-width="0.9"/>
</g>
<path d="M259.4 199.5h-3.9M259.4 219.7h-3.9M259.4 246.4h-3.9M259.4 266.6h-3.9M259.4 286.8h-3.9M259.4 313.5h-3.9M259.4 333.7h-3.9M259.4 333.7v3.9M297.3 333.7v3.9M335.3 333.7v3.9M373.2 333.7v3.9M411.2 333.7v3.9" stroke="#000" stroke-width="0.9" fill="none"/>
<text x="259.4" y="350.4" font-size="11.3" text-anchor="middle">EQ</text>
<text x="297.3" y="350.4" font-size="11.3" text-anchor="middle">20N</text>
<text x="335.3" y="350.4" font-size="11.3" text-anchor="middle">40N</text>
<text x="373.2" y="350.4" font-size="11.3" text-anchor="middle">60N</text>
<text x="411.2" y="350.4" font-size="11.3" text-anchor="middle">80N</text>
<text x="340" y="192.9" font-size="13.65" text-anchor="middle">CanESM5-G</text>
<text x="261.1" y="196.6" font-size="16.1" font-weight="bold">e</text>
<g id="panel-f">
<clipPath id="cf"><rect x="436.6" y="199.5" width="161.6" height="134.2"/></clipPath>
<rect x="436.6" y="199.5" width="161.6" height="134.2" fill="#f6f6f6"/>
<g clip-path="url(#cf)">
<path d="M463.8 198C463.8 198 466.1 207.4 466.3 212.3C466.5 217.2 465 222.8 465 227.4C465 232 465.6 236.8 466.3 240C467 243.2 469.1 244 469.4 246.3C469.7 248.6 469.2 251.5 468.2 253.8C467.1 256.1 465.6 258 463.1 260.1C460.6 262.2 453.1 266.4 453.1 266.4C453.1 266.4 455.4 272.3 456.2 275.2C457 278.1 457.5 281.3 458.1 284C458.7 286.7 459.5 288.4 460 291.5C460.5 294.6 460.7 299.4 461.2 302.8C461.7 306.2 462.2 309.3 463.1 311.6C464.1 313.9 465.4 315.8 466.9 316.6C468.4 317.4 470.3 317.1 471.9 316.6C473.5 316.1 476.3 313.5 476.3 313.5C476.3 313.5 478.8 316.3 479.5 317.9C480.2 319.5 480.2 321.5 480.7 322.9C481.2 324.2 481.8 324.9 482.6 326C483.4 327.1 484.6 328.7 485.7 329.7C486.8 330.7 488 331.8 488.9 332.2C489.8 332.6 489.9 332.6 490.8 332.2C491.7 331.8 493.1 331 494.5 329.7C495.9 328.4 497.8 326.2 499.5 324.1C501.2 322 503.1 319.7 504.6 317.2C506.1 314.7 507.4 311.8 508.3 309C509.2 306.2 510 303.2 510.2 300.3C510.4 297.4 510.3 294.2 509.6 291.5C508.9 288.8 506.8 285.9 505.8 284C504.9 282.1 504.7 282.3 503.9 280.2C503.1 278.1 501.7 274.5 500.8 271.4C499.9 268.2 499.4 264.2 498.3 261.3C497.2 258.4 496 256.3 494.5 253.8C493 251.3 490.6 248.6 489.5 246.3C488.4 244 488.1 242.9 487.9 240C487.7 237.1 487.8 232.2 488.2 228.6C488.6 225 490 221.9 490.1 218.6C490.2 215.3 489.4 212 488.9 208.6C488.4 205.2 487 198 487 198C487 198 463.8 198 463.8 198Z" fill="#f4d4c0"/>
<path d="M495.8 198C495.8 198 497.4 206.6 498.3 211.1C499.2 215.6 500.3 220.7 501.4 224.9C502.4 229.1 503.9 233.7 504.6 236.2C505.3 238.7 504.8 238.1 505.8 240C506.8 241.9 509.4 244.9 510.8 247.5C512.2 250.1 513.5 253.1 514.5 255.5C515.5 257.9 515.8 259.2 516.5 262C517.2 264.8 517.8 268.3 518.5 272C519.2 275.7 519.9 279.9 520.6 284C521.3 288.1 521.6 292.4 522.5 296.6C523.4 300.8 524.9 304.9 525.7 309.1C526.6 313.3 526.9 318.6 527.6 321.7C528.3 324.8 529 325.6 530.1 327.8C531.2 330 534.5 335 534.5 335C534.5 335 572 335 572 335C572 335 574.1 332.4 575 331C575.9 329.6 576.4 328.6 577.5 326.6C578.6 324.6 580.1 321.9 581.5 319C582.9 316.1 584.4 312.5 585.8 309C587.1 305.5 588.7 300.6 589.6 298C590.5 295.4 590.5 295.1 591.1 293.3C591.7 291.5 592.2 289.5 593 287C593.8 284.5 595.1 280.4 595.8 278.5C596.5 276.6 596.3 277.2 597 275.5C597.7 273.8 600 268 600 268C600 268 600 198 600 198C600 198 495.8 198 495.8 198Z" fill="#d0e5f0"/>
<path d="M507.1 198C507.1 198 508.6 206.2 509.6 209.8C510.7 213.5 512.2 217.3 513.4 219.9C514.6 222.5 515.9 223.6 517 225.5C518.1 227.4 518.9 228.8 520 231.2C521.1 233.6 522.3 236.4 523.8 240C525.3 243.6 527.1 248.4 528.8 252.6C530.5 256.8 532.1 260.9 533.8 265.1C535.5 269.3 537.9 274.6 538.9 277.7C539.9 280.8 539.5 281.7 539.5 284C539.5 286.3 538.4 289 538.9 291.5C539.4 294 540.9 296.8 542.6 299.1C544.3 301.4 546.6 303.4 548.9 305.3C551.2 307.2 553.9 309.2 556.4 310.4C558.9 311.6 561.7 312.5 564 312.6C566.3 312.7 568.6 312.2 570.2 311C571.8 309.8 572.7 307.5 573.6 305.3C574.5 303.1 575.3 300 575.8 298C576.3 296 576.2 295.1 576.7 293.3C577.2 291.5 577.8 289.5 578.6 287C579.4 284.5 580.4 281.9 581.7 278.5C583.1 275.1 585.3 270.1 586.7 266.7C588.1 263.3 588.8 261.3 589.9 258C591 254.7 592.7 250.5 593.6 247C594.5 243.5 594.5 240.3 595.2 237C595.9 233.7 596.9 230 597.7 227C598.5 224 600 219 600 219C600 219 600 198 600 198C600 198 507.1 198 507.1 198Z" fill="#8cc3dd"/>
<path d="M526.9 198C526.9 198 527.8 207.4 528.8 212.3C529.8 217.2 531.4 222.8 532.6 227.4C533.9 232 535 235.8 536.3 240C537.5 244.2 538.6 248.4 540.1 252.6C541.6 256.8 543.4 261.3 545.1 265.1C546.8 268.9 548.3 272.2 550.2 275.2C552.1 278.2 554.9 281.7 556.4 283.3C557.9 284.9 558 284.7 559 284.6C560 284.5 561.1 283.5 562.2 282.5C563.3 281.5 564.5 279.6 565.4 278.5C566.3 277.4 566.3 278 567.9 276C569.5 274 573.1 269.7 575.1 266.7C577.1 263.7 578 261.3 579.8 258C581.6 254.7 584.4 250.5 586.1 247C587.8 243.5 588.8 240.3 590.2 237C591.6 233.7 593.2 230.2 594.3 227C595.3 223.8 595.9 222.8 596.5 218C597.1 213.2 598 198 598 198C598 198 526.9 198 526.9 198Z" fill="#4a8dc3"/>
<path d="M543.9 198C543.9 198 544.2 207.4 544.5 212.3C544.8 217.2 545.4 222.8 545.8 227.4C546.2 232 546.3 236.4 547 240C547.7 243.6 548.8 246.1 550.2 248.8C551.6 251.5 553.5 254.5 555.2 256.3C556.9 258.1 558.6 259.3 560.2 259.5C561.8 259.7 563.4 258.7 565 257.5C566.6 256.3 568.4 254.2 570 252.5C571.6 250.8 572.8 249.6 574.5 247C576.2 244.4 578.6 240.3 580.5 237C582.4 233.7 584.4 230.2 586.1 227C587.8 223.8 589.1 222.8 590.5 218C591.9 213.2 594.3 198 594.3 198C594.3 198 543.9 198 543.9 198Z" fill="#2b5791"/>
<path d="M560.8 198C560.8 198 559.7 206.8 559.6 211.1C559.5 215.4 559.8 220.4 560.2 223.6C560.6 226.8 561.2 229 562.1 230.5C563 232 564.4 232.5 565.6 232.6C566.8 232.7 568.2 231.7 569.5 230.8C570.8 229.9 571.9 229.2 573.6 227C575.3 224.8 577.4 222.3 579.5 217.5C581.6 212.7 586.1 198 586.1 198C586.1 198 560.8 198 560.8 198Z" fill="#1c3765"/>
<path d="M436 199.5L436.9 201.5 438.4 210 440.8 218.6 440.3 232.4 437.4 238.1 436 240" fill="none" stroke="#808080" stroke-width="1.7" stroke-linejoin="round"/>
<path d="M515.2 198.5L514 221.1 510.8 240 509.8 245.6 513.4 255.1 519 267 521.3 271.4 526.9 284 530.1 290.3 531.9 300.3 531.3 311.6 530.1 321.7 531 327 534.2 334" fill="none" stroke="#808080" stroke-width="1.7" stroke-linejoin="round"/>
<path d="M449.9 334L448.7 327.9 450.6 321.7 451.4 315.4 448.7 307.2 451.2 297.8 456.9 290.3 460 284 465.6 273.9 470.7 269.5 476.3 268.2 483.2 271.4 492 278.3 493.9 284 494.5 299.1 493.9 312 492.6 327.9 494.8 334" fill="none" stroke="#808080" stroke-width="1.7" stroke-linejoin="round"/>
<path d="M599 303.4L593.8 304.7 590 308.4 592.8 315.9 599 310.2" fill="none" stroke="#808080" stroke-width="1.7" stroke-linejoin="round"/>
<path d="M526.3 199L527.6 212.3 529.4 227.4 531.6 240 535.1 252.6 540.1 262.6 546.4 270.1 553.9 274.5 561 275.6 564.8 274.2 571 271.1 576.7 266 581.7 261 584.7 257 588 251.7 591.8 244.2 594.6 237 596.2 231.7 598 225.4 599 221" fill="none" stroke="#808080" stroke-width="0.95" stroke-linejoin="round"/>
<path d="M537 199L538.9 212.3 542 227.4 546.1 240 551.4 246.3 557.7 250.7 561.5 251.4 568.5 248.6 575.4 243.5 580.4 237 583 232.3 587.4 224.2 590.2 217 592.4 208.6 594.3 199" fill="none" stroke="#808080" stroke-width="0.95" stroke-linejoin="round"/>
<path d="M548.9 199L550.8 208.6 555.2 219.9 560.2 225.5 564 227.3 567.3 227.3 573.6 222.3 578.2 217 582.3 208.6 585.8 199" fill="none" stroke="#808080" stroke-width="0.95" stroke-linejoin="round"/>
<clipPath id="kf"><path d="M543.9 198C543.9 198 544.2 207.4 544.5 212.3C544.8 217.2 545.4 222.8 545.8 227.4C546.2 232 546.3 236.4 547 240C547.7 243.6 548.8 246.1 550.2 248.8C551.6 251.5 553.5 254.5 555.2 256.3C556.9 258.1 558.6 259.3 560.2 259.5C561.8 259.7 563.4 258.7 565 257.5C566.6 256.3 568.4 254.2 570 252.5C571.6 250.8 572.8 249.6 574.5 247C576.2 244.4 578.6 240.3 580.5 237C582.4 233.7 584.4 230.2 586.1 227C587.8 223.8 589.1 222.8 590.5 218C591.9 213.2 594.3 198 594.3 198C594.3 198 543.9 198 543.9 198Z"/></clipPath>
<g clip-path="url(#kf)">
<path d="M526.3 199L527.6 212.3 529.4 227.4 531.6 240 535.1 252.6 540.1 262.6 546.4 270.1 553.9 274.5 561 275.6 564.8 274.2 571 271.1 576.7 266 581.7 261 584.7 257 588 251.7 591.8 244.2 594.6 237 596.2 231.7 598 225.4 599 221" fill="none" stroke="#969086" stroke-width="0.8" stroke-linejoin="round"/>
<path d="M537 199L538.9 212.3 542 227.4 546.1 240 551.4 246.3 557.7 250.7 561.5 251.4 568.5 248.6 575.4 243.5 580.4 237 583 232.3 587.4 224.2 590.2 217 592.4 208.6 594.3 199" fill="none" stroke="#969086" stroke-width="0.8" stroke-linejoin="round"/>
<path d="M548.9 199L550.8 208.6 555.2 219.9 560.2 225.5 564 227.3 567.3 227.3 573.6 222.3 578.2 217 582.3 208.6 585.8 199" fill="none" stroke="#969086" stroke-width="0.8" stroke-linejoin="round"/>
</g>
<path d="M471.2 231.5h0M476.5 231.5h0M465.9 266.6h0M471.2 266.6h0M476.5 266.6h0M481.8 266.6h0M545.4 266.6h0M550.7 266.6h0M556 266.6h0M561.3 266.6h0M566.6 266.6h0M571.9 266.6h0M545.4 278.4h0M550.7 278.4h0M556 278.4h0M561.3 278.4h0M566.6 278.4h0M571.9 278.4h0M577.2 278.4h0M545.4 286.8h0M550.7 286.8h0M556 286.8h0M561.3 286.8h0M566.6 286.8h0M571.9 286.8h0M577.2 286.8h0M550.7 293.3h0M556 293.3h0M561.3 293.3h0M566.6 293.3h0M571.9 293.3h0M577.2 293.3h0M550.7 298.6h0M556 298.6h0M561.3 298.6h0M566.6 298.6h0M571.9 298.6h0M577.2 298.6h0M550.7 307h0M556 307h0M561.3 307h0M566.6 307h0M571.9 307h0M577.2 307h0M550.7 313.5h0M556 313.5h0M561.3 313.5h0M566.6 313.5h0M571.9 313.5h0M577.2 313.5h0M465.9 318.8h0M556 318.8h0M561.3 318.8h0M566.6 318.8h0M571.9 318.8h0M556 323.3h0M561.3 323.3h0M566.6 323.3h0M571.9 323.3h0M465.9 329h0M471.2 329h0M476.5 329h0M556 329h0M561.3 329h0M566.6 329h0M571.9 329h0M487.1 331.4h0M556 331.4h0M561.3 331.4h0M566.6 331.4h0M556 333.7h0M561.3 333.7h0M566.6 333.7h0" stroke="#1a1a1a" stroke-width="1.7" stroke-linecap="round" fill="none"/>
<path d="M489.3 199.6L492 206.7L495.8 209.2L498.9 207.3L502 199.6" fill="none" stroke="#858585" stroke-width="1.05" stroke-dasharray="3.4 1.5"/>
</g>
<rect x="436.6" y="199.5" width="161.6" height="134.2" fill="none" stroke="#000" stroke-width="0.9"/>
</g>
<path d="M436.6 199.5h-3.9M436.6 219.7h-3.9M436.6 246.4h-3.9M436.6 266.6h-3.9M436.6 286.8h-3.9M436.6 313.5h-3.9M436.6 333.7h-3.9M436.6 333.7v3.9M474.6 333.7v3.9M512.5 333.7v3.9M550.5 333.7v3.9M588.4 333.7v3.9" stroke="#000" stroke-width="0.9" fill="none"/>
<text x="436.6" y="350.4" font-size="11.3" text-anchor="middle">EQ</text>
<text x="474.6" y="350.4" font-size="11.3" text-anchor="middle">20N</text>
<text x="512.5" y="350.4" font-size="11.3" text-anchor="middle">40N</text>
<text x="550.5" y="350.4" font-size="11.3" text-anchor="middle">60N</text>
<text x="588.4" y="350.4" font-size="11.3" text-anchor="middle">80N</text>
<text x="517.4" y="192.9" font-size="13.65" text-anchor="middle">d - e</text>
<text x="438.3" y="196.6" font-size="16.1" font-weight="bold">f</text>
<text transform="translate(11.6 163.8) rotate(-90)" font-size="13.65" font-weight="bold" text-anchor="middle">Zonal mean zonal wind response</text>
<g id="colorbar">
<rect x="612.9" y="43.4" width="14.7" height="29.4" fill="#8e1628"/>
<rect x="612.9" y="72.3" width="14.7" height="29.4" fill="#c74a45"/>
<rect x="612.9" y="101.3" width="14.7" height="29.4" fill="#e4967a"/>
<rect x="612.9" y="130.3" width="14.7" height="29.4" fill="#f4d4c0"/>
<rect x="612.9" y="159.3" width="14.7" height="29.4" fill="#f6f6f6"/>
<rect x="612.9" y="188.3" width="14.7" height="29.4" fill="#d0e5f0"/>
<rect x="612.9" y="217.3" width="14.7" height="29.4" fill="#8cc3dd"/>
<rect x="612.9" y="246.3" width="14.7" height="29.4" fill="#4a8dc3"/>
<rect x="612.9" y="275.4" width="14.7" height="29.4" fill="#2b5791"/>
<path d="M612.9 43.6L612.9 43.4L620.2 30.2L627.6 43.4L627.6 43.6Z" fill="#611022"/>
<path d="M612.9 304.1L612.9 304.4L620.2 317.5L627.6 304.4L627.6 304.1Z" fill="#1c3765"/>
<path d="M612.9 43.4L620.2 30.2L627.6 43.4L627.6 304.4L620.2 317.5L612.9 304.4Z" fill="none" stroke="#000" stroke-width="0.9" stroke-linejoin="miter"/>
<text x="635.4" y="47.9" font-size="11.3">1.35</text>
<text x="635.4" y="76.8" font-size="11.3">1.05</text>
<text x="635.4" y="105.8" font-size="11.3">0.75</text>
<text x="635.4" y="134.8" font-size="11.3">0.45</text>
<text x="635.4" y="163.8" font-size="11.3">0.15</text>
<text x="635.4" y="192.8" font-size="11.3">−0.15</text>
<text x="635.4" y="221.8" font-size="11.3">−0.45</text>
<text x="635.4" y="250.8" font-size="11.3">−0.75</text>
<text x="635.4" y="279.9" font-size="11.3">−1.05</text>
<text x="635.4" y="308.9" font-size="11.3">−1.35</text>
<path d="M627.6 43.4h3.9M627.6 72.3h3.9M627.6 101.3h3.9M627.6 130.3h3.9M627.6 159.3h3.9M627.6 188.3h3.9M627.6 217.3h3.9M627.6 246.3h3.9M627.6 275.4h3.9M627.6 304.4h3.9" stroke="#000" stroke-width="0.9" fill="none"/>
<text transform="translate(683.2 174.3) rotate(-90)" font-size="11.4" text-anchor="middle">m s<tspan font-size="8" dy="-4.4">−1</tspan></text>
</g>
</svg>
</body></html>
